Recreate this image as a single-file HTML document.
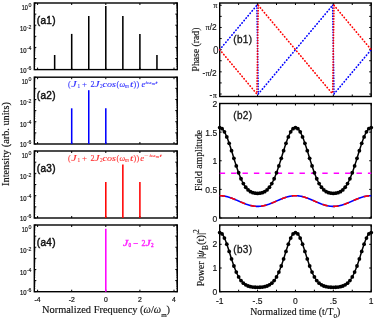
<!DOCTYPE html>
<html><head><meta charset="utf-8"><style>
html,body{margin:0;padding:0;background:#fff;}
svg{display:block;will-change:transform;}
text{font-family:"Liberation Sans",sans-serif;fill:#000;}
.tl{font-size:6.7px;fill:#111;stroke:#111;stroke-width:0.2px;}
.ts{font-size:5.3px;fill:#111;stroke:#111;stroke-width:0.15px;}
.tx{font-size:6.8px;fill:#111;stroke:#111;stroke-width:0.2px;}
.tr{font-size:8.5px;fill:#111;stroke:#111;stroke-width:0.15px;}
.t10{font-size:10px;fill:#111;}
.tpi{font-size:8.3px;fill:#111;stroke:#111;stroke-width:0.15px;}
.tpis{font-family:"Liberation Serif",serif;font-size:7.6px;fill:#222;stroke:#222;stroke-width:0.2px;}
.pl{font-size:10px;fill:#111;stroke:#111;stroke-width:0.45px;letter-spacing:0.3px;}
.pl2{font-size:10px;fill:#151515;stroke:#151515;stroke-width:0.3px;letter-spacing:0.3px;}
.eq text{font-family:"Liberation Serif",serif;font-weight:normal;fill:inherit;}
.xl{font-family:"Liberation Serif",serif;font-size:10.4px;fill:#111;stroke:#111;stroke-width:0.15px;}
.xl2{font-family:"Liberation Serif",serif;font-size:9.8px;fill:#111;stroke:#111;stroke-width:0.15px;}
.yl{font-family:"Liberation Serif",serif;font-size:10.3px;fill:#111;stroke:#111;stroke-width:0.15px;}
.yl2{font-family:"Liberation Serif",serif;font-size:9.7px;fill:#111;stroke:#111;stroke-width:0.15px;}
</style></head><body>
<svg width="375" height="321" viewBox="0 0 375 321">
<rect width="375" height="321" fill="#fff"/>
<g stroke="#000" stroke-width="1"><line x1="37.60" y1="69.60" x2="37.60" y2="67.60"/><line x1="37.60" y1="3.00" x2="37.60" y2="5.00"/><line x1="71.70" y1="69.60" x2="71.70" y2="67.60"/><line x1="71.70" y1="3.00" x2="71.70" y2="5.00"/><line x1="105.80" y1="69.60" x2="105.80" y2="67.60"/><line x1="105.80" y1="3.00" x2="105.80" y2="5.00"/><line x1="139.90" y1="69.60" x2="139.90" y2="67.60"/><line x1="139.90" y1="3.00" x2="139.90" y2="5.00"/><line x1="174.00" y1="69.60" x2="174.00" y2="67.60"/><line x1="174.00" y1="3.00" x2="174.00" y2="5.00"/><line x1="34.30" y1="3.00" x2="36.30" y2="3.00"/><line x1="177.30" y1="3.00" x2="175.30" y2="3.00"/><line x1="34.30" y1="10.76" x2="35.40" y2="10.76" stroke-width="0.6"/><line x1="177.30" y1="10.76" x2="176.20" y2="10.76" stroke-width="0.6"/><line x1="34.30" y1="8.80" x2="35.40" y2="8.80" stroke-width="0.6"/><line x1="177.30" y1="8.80" x2="176.20" y2="8.80" stroke-width="0.6"/><line x1="34.30" y1="7.42" x2="35.40" y2="7.42" stroke-width="0.6"/><line x1="177.30" y1="7.42" x2="176.20" y2="7.42" stroke-width="0.6"/><line x1="34.30" y1="6.34" x2="35.40" y2="6.34" stroke-width="0.6"/><line x1="177.30" y1="6.34" x2="176.20" y2="6.34" stroke-width="0.6"/><line x1="34.30" y1="5.46" x2="35.40" y2="5.46" stroke-width="0.6"/><line x1="177.30" y1="5.46" x2="176.20" y2="5.46" stroke-width="0.6"/><line x1="34.30" y1="4.72" x2="35.40" y2="4.72" stroke-width="0.6"/><line x1="177.30" y1="4.72" x2="176.20" y2="4.72" stroke-width="0.6"/><line x1="34.30" y1="4.08" x2="35.40" y2="4.08" stroke-width="0.6"/><line x1="177.30" y1="4.08" x2="176.20" y2="4.08" stroke-width="0.6"/><line x1="34.30" y1="3.51" x2="35.40" y2="3.51" stroke-width="0.6"/><line x1="177.30" y1="3.51" x2="176.20" y2="3.51" stroke-width="0.6"/><line x1="34.30" y1="14.10" x2="36.30" y2="14.10"/><line x1="177.30" y1="14.10" x2="175.30" y2="14.10"/><line x1="34.30" y1="21.86" x2="35.40" y2="21.86" stroke-width="0.6"/><line x1="177.30" y1="21.86" x2="176.20" y2="21.86" stroke-width="0.6"/><line x1="34.30" y1="19.90" x2="35.40" y2="19.90" stroke-width="0.6"/><line x1="177.30" y1="19.90" x2="176.20" y2="19.90" stroke-width="0.6"/><line x1="34.30" y1="18.52" x2="35.40" y2="18.52" stroke-width="0.6"/><line x1="177.30" y1="18.52" x2="176.20" y2="18.52" stroke-width="0.6"/><line x1="34.30" y1="17.44" x2="35.40" y2="17.44" stroke-width="0.6"/><line x1="177.30" y1="17.44" x2="176.20" y2="17.44" stroke-width="0.6"/><line x1="34.30" y1="16.56" x2="35.40" y2="16.56" stroke-width="0.6"/><line x1="177.30" y1="16.56" x2="176.20" y2="16.56" stroke-width="0.6"/><line x1="34.30" y1="15.82" x2="35.40" y2="15.82" stroke-width="0.6"/><line x1="177.30" y1="15.82" x2="176.20" y2="15.82" stroke-width="0.6"/><line x1="34.30" y1="15.18" x2="35.40" y2="15.18" stroke-width="0.6"/><line x1="177.30" y1="15.18" x2="176.20" y2="15.18" stroke-width="0.6"/><line x1="34.30" y1="14.61" x2="35.40" y2="14.61" stroke-width="0.6"/><line x1="177.30" y1="14.61" x2="176.20" y2="14.61" stroke-width="0.6"/><line x1="34.30" y1="25.20" x2="36.30" y2="25.20"/><line x1="177.30" y1="25.20" x2="175.30" y2="25.20"/><line x1="34.30" y1="32.96" x2="35.40" y2="32.96" stroke-width="0.6"/><line x1="177.30" y1="32.96" x2="176.20" y2="32.96" stroke-width="0.6"/><line x1="34.30" y1="31.00" x2="35.40" y2="31.00" stroke-width="0.6"/><line x1="177.30" y1="31.00" x2="176.20" y2="31.00" stroke-width="0.6"/><line x1="34.30" y1="29.62" x2="35.40" y2="29.62" stroke-width="0.6"/><line x1="177.30" y1="29.62" x2="176.20" y2="29.62" stroke-width="0.6"/><line x1="34.30" y1="28.54" x2="35.40" y2="28.54" stroke-width="0.6"/><line x1="177.30" y1="28.54" x2="176.20" y2="28.54" stroke-width="0.6"/><line x1="34.30" y1="27.66" x2="35.40" y2="27.66" stroke-width="0.6"/><line x1="177.30" y1="27.66" x2="176.20" y2="27.66" stroke-width="0.6"/><line x1="34.30" y1="26.92" x2="35.40" y2="26.92" stroke-width="0.6"/><line x1="177.30" y1="26.92" x2="176.20" y2="26.92" stroke-width="0.6"/><line x1="34.30" y1="26.28" x2="35.40" y2="26.28" stroke-width="0.6"/><line x1="177.30" y1="26.28" x2="176.20" y2="26.28" stroke-width="0.6"/><line x1="34.30" y1="25.71" x2="35.40" y2="25.71" stroke-width="0.6"/><line x1="177.30" y1="25.71" x2="176.20" y2="25.71" stroke-width="0.6"/><line x1="34.30" y1="36.30" x2="36.30" y2="36.30"/><line x1="177.30" y1="36.30" x2="175.30" y2="36.30"/><line x1="34.30" y1="44.06" x2="35.40" y2="44.06" stroke-width="0.6"/><line x1="177.30" y1="44.06" x2="176.20" y2="44.06" stroke-width="0.6"/><line x1="34.30" y1="42.10" x2="35.40" y2="42.10" stroke-width="0.6"/><line x1="177.30" y1="42.10" x2="176.20" y2="42.10" stroke-width="0.6"/><line x1="34.30" y1="40.72" x2="35.40" y2="40.72" stroke-width="0.6"/><line x1="177.30" y1="40.72" x2="176.20" y2="40.72" stroke-width="0.6"/><line x1="34.30" y1="39.64" x2="35.40" y2="39.64" stroke-width="0.6"/><line x1="177.30" y1="39.64" x2="176.20" y2="39.64" stroke-width="0.6"/><line x1="34.30" y1="38.76" x2="35.40" y2="38.76" stroke-width="0.6"/><line x1="177.30" y1="38.76" x2="176.20" y2="38.76" stroke-width="0.6"/><line x1="34.30" y1="38.02" x2="35.40" y2="38.02" stroke-width="0.6"/><line x1="177.30" y1="38.02" x2="176.20" y2="38.02" stroke-width="0.6"/><line x1="34.30" y1="37.38" x2="35.40" y2="37.38" stroke-width="0.6"/><line x1="177.30" y1="37.38" x2="176.20" y2="37.38" stroke-width="0.6"/><line x1="34.30" y1="36.81" x2="35.40" y2="36.81" stroke-width="0.6"/><line x1="177.30" y1="36.81" x2="176.20" y2="36.81" stroke-width="0.6"/><line x1="34.30" y1="47.40" x2="36.30" y2="47.40"/><line x1="177.30" y1="47.40" x2="175.30" y2="47.40"/><line x1="34.30" y1="55.16" x2="35.40" y2="55.16" stroke-width="0.6"/><line x1="177.30" y1="55.16" x2="176.20" y2="55.16" stroke-width="0.6"/><line x1="34.30" y1="53.20" x2="35.40" y2="53.20" stroke-width="0.6"/><line x1="177.30" y1="53.20" x2="176.20" y2="53.20" stroke-width="0.6"/><line x1="34.30" y1="51.82" x2="35.40" y2="51.82" stroke-width="0.6"/><line x1="177.30" y1="51.82" x2="176.20" y2="51.82" stroke-width="0.6"/><line x1="34.30" y1="50.74" x2="35.40" y2="50.74" stroke-width="0.6"/><line x1="177.30" y1="50.74" x2="176.20" y2="50.74" stroke-width="0.6"/><line x1="34.30" y1="49.86" x2="35.40" y2="49.86" stroke-width="0.6"/><line x1="177.30" y1="49.86" x2="176.20" y2="49.86" stroke-width="0.6"/><line x1="34.30" y1="49.12" x2="35.40" y2="49.12" stroke-width="0.6"/><line x1="177.30" y1="49.12" x2="176.20" y2="49.12" stroke-width="0.6"/><line x1="34.30" y1="48.48" x2="35.40" y2="48.48" stroke-width="0.6"/><line x1="177.30" y1="48.48" x2="176.20" y2="48.48" stroke-width="0.6"/><line x1="34.30" y1="47.91" x2="35.40" y2="47.91" stroke-width="0.6"/><line x1="177.30" y1="47.91" x2="176.20" y2="47.91" stroke-width="0.6"/><line x1="34.30" y1="58.50" x2="36.30" y2="58.50"/><line x1="177.30" y1="58.50" x2="175.30" y2="58.50"/><line x1="34.30" y1="66.26" x2="35.40" y2="66.26" stroke-width="0.6"/><line x1="177.30" y1="66.26" x2="176.20" y2="66.26" stroke-width="0.6"/><line x1="34.30" y1="64.30" x2="35.40" y2="64.30" stroke-width="0.6"/><line x1="177.30" y1="64.30" x2="176.20" y2="64.30" stroke-width="0.6"/><line x1="34.30" y1="62.92" x2="35.40" y2="62.92" stroke-width="0.6"/><line x1="177.30" y1="62.92" x2="176.20" y2="62.92" stroke-width="0.6"/><line x1="34.30" y1="61.84" x2="35.40" y2="61.84" stroke-width="0.6"/><line x1="177.30" y1="61.84" x2="176.20" y2="61.84" stroke-width="0.6"/><line x1="34.30" y1="60.96" x2="35.40" y2="60.96" stroke-width="0.6"/><line x1="177.30" y1="60.96" x2="176.20" y2="60.96" stroke-width="0.6"/><line x1="34.30" y1="60.22" x2="35.40" y2="60.22" stroke-width="0.6"/><line x1="177.30" y1="60.22" x2="176.20" y2="60.22" stroke-width="0.6"/><line x1="34.30" y1="59.58" x2="35.40" y2="59.58" stroke-width="0.6"/><line x1="177.30" y1="59.58" x2="176.20" y2="59.58" stroke-width="0.6"/><line x1="34.30" y1="59.01" x2="35.40" y2="59.01" stroke-width="0.6"/><line x1="177.30" y1="59.01" x2="176.20" y2="59.01" stroke-width="0.6"/><line x1="34.30" y1="69.60" x2="36.30" y2="69.60"/><line x1="177.30" y1="69.60" x2="175.30" y2="69.60"/></g>
<rect x="34.3" y="3.0" width="143.00" height="66.60" fill="none" stroke="#000" stroke-width="1.4"/>
<text x="27.9" y="9.60" class="tl" text-anchor="end" textLength="6.1" lengthAdjust="spacingAndGlyphs">10</text>
<text x="28.5" y="6.80" class="ts">0</text>
<text x="26.6" y="31.10" class="tl" text-anchor="end" textLength="6.6" lengthAdjust="spacingAndGlyphs">10</text>
<text x="26.7" y="28.50" class="ts" textLength="4.6" lengthAdjust="spacingAndGlyphs">-2</text>
<text x="26.6" y="52.60" class="tl" text-anchor="end" textLength="6.6" lengthAdjust="spacingAndGlyphs">10</text>
<text x="26.7" y="50.00" class="ts" textLength="4.6" lengthAdjust="spacingAndGlyphs">-4</text>
<text x="26.6" y="72.80" class="tl" text-anchor="end" textLength="6.6" lengthAdjust="spacingAndGlyphs">10</text>
<text x="26.7" y="70.20" class="ts" textLength="4.6" lengthAdjust="spacingAndGlyphs">-6</text>
<g stroke="#000" stroke-width="1"><line x1="37.60" y1="144.00" x2="37.60" y2="142.00"/><line x1="37.60" y1="77.20" x2="37.60" y2="79.20"/><line x1="71.70" y1="144.00" x2="71.70" y2="142.00"/><line x1="71.70" y1="77.20" x2="71.70" y2="79.20"/><line x1="105.80" y1="144.00" x2="105.80" y2="142.00"/><line x1="105.80" y1="77.20" x2="105.80" y2="79.20"/><line x1="139.90" y1="144.00" x2="139.90" y2="142.00"/><line x1="139.90" y1="77.20" x2="139.90" y2="79.20"/><line x1="174.00" y1="144.00" x2="174.00" y2="142.00"/><line x1="174.00" y1="77.20" x2="174.00" y2="79.20"/><line x1="34.30" y1="77.20" x2="36.30" y2="77.20"/><line x1="177.30" y1="77.20" x2="175.30" y2="77.20"/><line x1="34.30" y1="84.98" x2="35.40" y2="84.98" stroke-width="0.6"/><line x1="177.30" y1="84.98" x2="176.20" y2="84.98" stroke-width="0.6"/><line x1="34.30" y1="83.02" x2="35.40" y2="83.02" stroke-width="0.6"/><line x1="177.30" y1="83.02" x2="176.20" y2="83.02" stroke-width="0.6"/><line x1="34.30" y1="81.63" x2="35.40" y2="81.63" stroke-width="0.6"/><line x1="177.30" y1="81.63" x2="176.20" y2="81.63" stroke-width="0.6"/><line x1="34.30" y1="80.55" x2="35.40" y2="80.55" stroke-width="0.6"/><line x1="177.30" y1="80.55" x2="176.20" y2="80.55" stroke-width="0.6"/><line x1="34.30" y1="79.67" x2="35.40" y2="79.67" stroke-width="0.6"/><line x1="177.30" y1="79.67" x2="176.20" y2="79.67" stroke-width="0.6"/><line x1="34.30" y1="78.92" x2="35.40" y2="78.92" stroke-width="0.6"/><line x1="177.30" y1="78.92" x2="176.20" y2="78.92" stroke-width="0.6"/><line x1="34.30" y1="78.28" x2="35.40" y2="78.28" stroke-width="0.6"/><line x1="177.30" y1="78.28" x2="176.20" y2="78.28" stroke-width="0.6"/><line x1="34.30" y1="77.71" x2="35.40" y2="77.71" stroke-width="0.6"/><line x1="177.30" y1="77.71" x2="176.20" y2="77.71" stroke-width="0.6"/><line x1="34.30" y1="88.33" x2="36.30" y2="88.33"/><line x1="177.30" y1="88.33" x2="175.30" y2="88.33"/><line x1="34.30" y1="96.12" x2="35.40" y2="96.12" stroke-width="0.6"/><line x1="177.30" y1="96.12" x2="176.20" y2="96.12" stroke-width="0.6"/><line x1="34.30" y1="94.15" x2="35.40" y2="94.15" stroke-width="0.6"/><line x1="177.30" y1="94.15" x2="176.20" y2="94.15" stroke-width="0.6"/><line x1="34.30" y1="92.76" x2="35.40" y2="92.76" stroke-width="0.6"/><line x1="177.30" y1="92.76" x2="176.20" y2="92.76" stroke-width="0.6"/><line x1="34.30" y1="91.68" x2="35.40" y2="91.68" stroke-width="0.6"/><line x1="177.30" y1="91.68" x2="176.20" y2="91.68" stroke-width="0.6"/><line x1="34.30" y1="90.80" x2="35.40" y2="90.80" stroke-width="0.6"/><line x1="177.30" y1="90.80" x2="176.20" y2="90.80" stroke-width="0.6"/><line x1="34.30" y1="90.06" x2="35.40" y2="90.06" stroke-width="0.6"/><line x1="177.30" y1="90.06" x2="176.20" y2="90.06" stroke-width="0.6"/><line x1="34.30" y1="89.41" x2="35.40" y2="89.41" stroke-width="0.6"/><line x1="177.30" y1="89.41" x2="176.20" y2="89.41" stroke-width="0.6"/><line x1="34.30" y1="88.84" x2="35.40" y2="88.84" stroke-width="0.6"/><line x1="177.30" y1="88.84" x2="176.20" y2="88.84" stroke-width="0.6"/><line x1="34.30" y1="99.47" x2="36.30" y2="99.47"/><line x1="177.30" y1="99.47" x2="175.30" y2="99.47"/><line x1="34.30" y1="107.25" x2="35.40" y2="107.25" stroke-width="0.6"/><line x1="177.30" y1="107.25" x2="176.20" y2="107.25" stroke-width="0.6"/><line x1="34.30" y1="105.29" x2="35.40" y2="105.29" stroke-width="0.6"/><line x1="177.30" y1="105.29" x2="176.20" y2="105.29" stroke-width="0.6"/><line x1="34.30" y1="103.90" x2="35.40" y2="103.90" stroke-width="0.6"/><line x1="177.30" y1="103.90" x2="176.20" y2="103.90" stroke-width="0.6"/><line x1="34.30" y1="102.82" x2="35.40" y2="102.82" stroke-width="0.6"/><line x1="177.30" y1="102.82" x2="176.20" y2="102.82" stroke-width="0.6"/><line x1="34.30" y1="101.94" x2="35.40" y2="101.94" stroke-width="0.6"/><line x1="177.30" y1="101.94" x2="176.20" y2="101.94" stroke-width="0.6"/><line x1="34.30" y1="101.19" x2="35.40" y2="101.19" stroke-width="0.6"/><line x1="177.30" y1="101.19" x2="176.20" y2="101.19" stroke-width="0.6"/><line x1="34.30" y1="100.55" x2="35.40" y2="100.55" stroke-width="0.6"/><line x1="177.30" y1="100.55" x2="176.20" y2="100.55" stroke-width="0.6"/><line x1="34.30" y1="99.98" x2="35.40" y2="99.98" stroke-width="0.6"/><line x1="177.30" y1="99.98" x2="176.20" y2="99.98" stroke-width="0.6"/><line x1="34.30" y1="110.60" x2="36.30" y2="110.60"/><line x1="177.30" y1="110.60" x2="175.30" y2="110.60"/><line x1="34.30" y1="118.38" x2="35.40" y2="118.38" stroke-width="0.6"/><line x1="177.30" y1="118.38" x2="176.20" y2="118.38" stroke-width="0.6"/><line x1="34.30" y1="116.42" x2="35.40" y2="116.42" stroke-width="0.6"/><line x1="177.30" y1="116.42" x2="176.20" y2="116.42" stroke-width="0.6"/><line x1="34.30" y1="115.03" x2="35.40" y2="115.03" stroke-width="0.6"/><line x1="177.30" y1="115.03" x2="176.20" y2="115.03" stroke-width="0.6"/><line x1="34.30" y1="113.95" x2="35.40" y2="113.95" stroke-width="0.6"/><line x1="177.30" y1="113.95" x2="176.20" y2="113.95" stroke-width="0.6"/><line x1="34.30" y1="113.07" x2="35.40" y2="113.07" stroke-width="0.6"/><line x1="177.30" y1="113.07" x2="176.20" y2="113.07" stroke-width="0.6"/><line x1="34.30" y1="112.32" x2="35.40" y2="112.32" stroke-width="0.6"/><line x1="177.30" y1="112.32" x2="176.20" y2="112.32" stroke-width="0.6"/><line x1="34.30" y1="111.68" x2="35.40" y2="111.68" stroke-width="0.6"/><line x1="177.30" y1="111.68" x2="176.20" y2="111.68" stroke-width="0.6"/><line x1="34.30" y1="111.11" x2="35.40" y2="111.11" stroke-width="0.6"/><line x1="177.30" y1="111.11" x2="176.20" y2="111.11" stroke-width="0.6"/><line x1="34.30" y1="121.73" x2="36.30" y2="121.73"/><line x1="177.30" y1="121.73" x2="175.30" y2="121.73"/><line x1="34.30" y1="129.52" x2="35.40" y2="129.52" stroke-width="0.6"/><line x1="177.30" y1="129.52" x2="176.20" y2="129.52" stroke-width="0.6"/><line x1="34.30" y1="127.55" x2="35.40" y2="127.55" stroke-width="0.6"/><line x1="177.30" y1="127.55" x2="176.20" y2="127.55" stroke-width="0.6"/><line x1="34.30" y1="126.16" x2="35.40" y2="126.16" stroke-width="0.6"/><line x1="177.30" y1="126.16" x2="176.20" y2="126.16" stroke-width="0.6"/><line x1="34.30" y1="125.08" x2="35.40" y2="125.08" stroke-width="0.6"/><line x1="177.30" y1="125.08" x2="176.20" y2="125.08" stroke-width="0.6"/><line x1="34.30" y1="124.20" x2="35.40" y2="124.20" stroke-width="0.6"/><line x1="177.30" y1="124.20" x2="176.20" y2="124.20" stroke-width="0.6"/><line x1="34.30" y1="123.46" x2="35.40" y2="123.46" stroke-width="0.6"/><line x1="177.30" y1="123.46" x2="176.20" y2="123.46" stroke-width="0.6"/><line x1="34.30" y1="122.81" x2="35.40" y2="122.81" stroke-width="0.6"/><line x1="177.30" y1="122.81" x2="176.20" y2="122.81" stroke-width="0.6"/><line x1="34.30" y1="122.24" x2="35.40" y2="122.24" stroke-width="0.6"/><line x1="177.30" y1="122.24" x2="176.20" y2="122.24" stroke-width="0.6"/><line x1="34.30" y1="132.87" x2="36.30" y2="132.87"/><line x1="177.30" y1="132.87" x2="175.30" y2="132.87"/><line x1="34.30" y1="140.65" x2="35.40" y2="140.65" stroke-width="0.6"/><line x1="177.30" y1="140.65" x2="176.20" y2="140.65" stroke-width="0.6"/><line x1="34.30" y1="138.69" x2="35.40" y2="138.69" stroke-width="0.6"/><line x1="177.30" y1="138.69" x2="176.20" y2="138.69" stroke-width="0.6"/><line x1="34.30" y1="137.30" x2="35.40" y2="137.30" stroke-width="0.6"/><line x1="177.30" y1="137.30" x2="176.20" y2="137.30" stroke-width="0.6"/><line x1="34.30" y1="136.22" x2="35.40" y2="136.22" stroke-width="0.6"/><line x1="177.30" y1="136.22" x2="176.20" y2="136.22" stroke-width="0.6"/><line x1="34.30" y1="135.34" x2="35.40" y2="135.34" stroke-width="0.6"/><line x1="177.30" y1="135.34" x2="176.20" y2="135.34" stroke-width="0.6"/><line x1="34.30" y1="134.59" x2="35.40" y2="134.59" stroke-width="0.6"/><line x1="177.30" y1="134.59" x2="176.20" y2="134.59" stroke-width="0.6"/><line x1="34.30" y1="133.95" x2="35.40" y2="133.95" stroke-width="0.6"/><line x1="177.30" y1="133.95" x2="176.20" y2="133.95" stroke-width="0.6"/><line x1="34.30" y1="133.38" x2="35.40" y2="133.38" stroke-width="0.6"/><line x1="177.30" y1="133.38" x2="176.20" y2="133.38" stroke-width="0.6"/><line x1="34.30" y1="144.00" x2="36.30" y2="144.00"/><line x1="177.30" y1="144.00" x2="175.30" y2="144.00"/></g>
<rect x="34.3" y="77.2" width="143.00" height="66.80" fill="none" stroke="#000" stroke-width="1.4"/>
<text x="27.9" y="83.80" class="tl" text-anchor="end" textLength="6.1" lengthAdjust="spacingAndGlyphs">10</text>
<text x="28.5" y="81.00" class="ts">0</text>
<text x="26.6" y="105.30" class="tl" text-anchor="end" textLength="6.6" lengthAdjust="spacingAndGlyphs">10</text>
<text x="26.7" y="102.70" class="ts" textLength="4.6" lengthAdjust="spacingAndGlyphs">-2</text>
<text x="26.6" y="126.80" class="tl" text-anchor="end" textLength="6.6" lengthAdjust="spacingAndGlyphs">10</text>
<text x="26.7" y="124.20" class="ts" textLength="4.6" lengthAdjust="spacingAndGlyphs">-4</text>
<text x="26.6" y="147.00" class="tl" text-anchor="end" textLength="6.6" lengthAdjust="spacingAndGlyphs">10</text>
<text x="26.7" y="144.40" class="ts" textLength="4.6" lengthAdjust="spacingAndGlyphs">-6</text>
<g stroke="#000" stroke-width="1"><line x1="37.60" y1="218.00" x2="37.60" y2="216.00"/><line x1="37.60" y1="151.00" x2="37.60" y2="153.00"/><line x1="71.70" y1="218.00" x2="71.70" y2="216.00"/><line x1="71.70" y1="151.00" x2="71.70" y2="153.00"/><line x1="105.80" y1="218.00" x2="105.80" y2="216.00"/><line x1="105.80" y1="151.00" x2="105.80" y2="153.00"/><line x1="139.90" y1="218.00" x2="139.90" y2="216.00"/><line x1="139.90" y1="151.00" x2="139.90" y2="153.00"/><line x1="174.00" y1="218.00" x2="174.00" y2="216.00"/><line x1="174.00" y1="151.00" x2="174.00" y2="153.00"/><line x1="34.30" y1="151.00" x2="36.30" y2="151.00"/><line x1="177.30" y1="151.00" x2="175.30" y2="151.00"/><line x1="34.30" y1="158.81" x2="35.40" y2="158.81" stroke-width="0.6"/><line x1="177.30" y1="158.81" x2="176.20" y2="158.81" stroke-width="0.6"/><line x1="34.30" y1="156.84" x2="35.40" y2="156.84" stroke-width="0.6"/><line x1="177.30" y1="156.84" x2="176.20" y2="156.84" stroke-width="0.6"/><line x1="34.30" y1="155.44" x2="35.40" y2="155.44" stroke-width="0.6"/><line x1="177.30" y1="155.44" x2="176.20" y2="155.44" stroke-width="0.6"/><line x1="34.30" y1="154.36" x2="35.40" y2="154.36" stroke-width="0.6"/><line x1="177.30" y1="154.36" x2="176.20" y2="154.36" stroke-width="0.6"/><line x1="34.30" y1="153.48" x2="35.40" y2="153.48" stroke-width="0.6"/><line x1="177.30" y1="153.48" x2="176.20" y2="153.48" stroke-width="0.6"/><line x1="34.30" y1="152.73" x2="35.40" y2="152.73" stroke-width="0.6"/><line x1="177.30" y1="152.73" x2="176.20" y2="152.73" stroke-width="0.6"/><line x1="34.30" y1="152.08" x2="35.40" y2="152.08" stroke-width="0.6"/><line x1="177.30" y1="152.08" x2="176.20" y2="152.08" stroke-width="0.6"/><line x1="34.30" y1="151.51" x2="35.40" y2="151.51" stroke-width="0.6"/><line x1="177.30" y1="151.51" x2="176.20" y2="151.51" stroke-width="0.6"/><line x1="34.30" y1="162.17" x2="36.30" y2="162.17"/><line x1="177.30" y1="162.17" x2="175.30" y2="162.17"/><line x1="34.30" y1="169.97" x2="35.40" y2="169.97" stroke-width="0.6"/><line x1="177.30" y1="169.97" x2="176.20" y2="169.97" stroke-width="0.6"/><line x1="34.30" y1="168.01" x2="35.40" y2="168.01" stroke-width="0.6"/><line x1="177.30" y1="168.01" x2="176.20" y2="168.01" stroke-width="0.6"/><line x1="34.30" y1="166.61" x2="35.40" y2="166.61" stroke-width="0.6"/><line x1="177.30" y1="166.61" x2="176.20" y2="166.61" stroke-width="0.6"/><line x1="34.30" y1="165.53" x2="35.40" y2="165.53" stroke-width="0.6"/><line x1="177.30" y1="165.53" x2="176.20" y2="165.53" stroke-width="0.6"/><line x1="34.30" y1="164.64" x2="35.40" y2="164.64" stroke-width="0.6"/><line x1="177.30" y1="164.64" x2="176.20" y2="164.64" stroke-width="0.6"/><line x1="34.30" y1="163.90" x2="35.40" y2="163.90" stroke-width="0.6"/><line x1="177.30" y1="163.90" x2="176.20" y2="163.90" stroke-width="0.6"/><line x1="34.30" y1="163.25" x2="35.40" y2="163.25" stroke-width="0.6"/><line x1="177.30" y1="163.25" x2="176.20" y2="163.25" stroke-width="0.6"/><line x1="34.30" y1="162.68" x2="35.40" y2="162.68" stroke-width="0.6"/><line x1="177.30" y1="162.68" x2="176.20" y2="162.68" stroke-width="0.6"/><line x1="34.30" y1="173.33" x2="36.30" y2="173.33"/><line x1="177.30" y1="173.33" x2="175.30" y2="173.33"/><line x1="34.30" y1="181.14" x2="35.40" y2="181.14" stroke-width="0.6"/><line x1="177.30" y1="181.14" x2="176.20" y2="181.14" stroke-width="0.6"/><line x1="34.30" y1="179.17" x2="35.40" y2="179.17" stroke-width="0.6"/><line x1="177.30" y1="179.17" x2="176.20" y2="179.17" stroke-width="0.6"/><line x1="34.30" y1="177.78" x2="35.40" y2="177.78" stroke-width="0.6"/><line x1="177.30" y1="177.78" x2="176.20" y2="177.78" stroke-width="0.6"/><line x1="34.30" y1="176.69" x2="35.40" y2="176.69" stroke-width="0.6"/><line x1="177.30" y1="176.69" x2="176.20" y2="176.69" stroke-width="0.6"/><line x1="34.30" y1="175.81" x2="35.40" y2="175.81" stroke-width="0.6"/><line x1="177.30" y1="175.81" x2="176.20" y2="175.81" stroke-width="0.6"/><line x1="34.30" y1="175.06" x2="35.40" y2="175.06" stroke-width="0.6"/><line x1="177.30" y1="175.06" x2="176.20" y2="175.06" stroke-width="0.6"/><line x1="34.30" y1="174.42" x2="35.40" y2="174.42" stroke-width="0.6"/><line x1="177.30" y1="174.42" x2="176.20" y2="174.42" stroke-width="0.6"/><line x1="34.30" y1="173.84" x2="35.40" y2="173.84" stroke-width="0.6"/><line x1="177.30" y1="173.84" x2="176.20" y2="173.84" stroke-width="0.6"/><line x1="34.30" y1="184.50" x2="36.30" y2="184.50"/><line x1="177.30" y1="184.50" x2="175.30" y2="184.50"/><line x1="34.30" y1="192.31" x2="35.40" y2="192.31" stroke-width="0.6"/><line x1="177.30" y1="192.31" x2="176.20" y2="192.31" stroke-width="0.6"/><line x1="34.30" y1="190.34" x2="35.40" y2="190.34" stroke-width="0.6"/><line x1="177.30" y1="190.34" x2="176.20" y2="190.34" stroke-width="0.6"/><line x1="34.30" y1="188.94" x2="35.40" y2="188.94" stroke-width="0.6"/><line x1="177.30" y1="188.94" x2="176.20" y2="188.94" stroke-width="0.6"/><line x1="34.30" y1="187.86" x2="35.40" y2="187.86" stroke-width="0.6"/><line x1="177.30" y1="187.86" x2="176.20" y2="187.86" stroke-width="0.6"/><line x1="34.30" y1="186.98" x2="35.40" y2="186.98" stroke-width="0.6"/><line x1="177.30" y1="186.98" x2="176.20" y2="186.98" stroke-width="0.6"/><line x1="34.30" y1="186.23" x2="35.40" y2="186.23" stroke-width="0.6"/><line x1="177.30" y1="186.23" x2="176.20" y2="186.23" stroke-width="0.6"/><line x1="34.30" y1="185.58" x2="35.40" y2="185.58" stroke-width="0.6"/><line x1="177.30" y1="185.58" x2="176.20" y2="185.58" stroke-width="0.6"/><line x1="34.30" y1="185.01" x2="35.40" y2="185.01" stroke-width="0.6"/><line x1="177.30" y1="185.01" x2="176.20" y2="185.01" stroke-width="0.6"/><line x1="34.30" y1="195.67" x2="36.30" y2="195.67"/><line x1="177.30" y1="195.67" x2="175.30" y2="195.67"/><line x1="34.30" y1="203.47" x2="35.40" y2="203.47" stroke-width="0.6"/><line x1="177.30" y1="203.47" x2="176.20" y2="203.47" stroke-width="0.6"/><line x1="34.30" y1="201.51" x2="35.40" y2="201.51" stroke-width="0.6"/><line x1="177.30" y1="201.51" x2="176.20" y2="201.51" stroke-width="0.6"/><line x1="34.30" y1="200.11" x2="35.40" y2="200.11" stroke-width="0.6"/><line x1="177.30" y1="200.11" x2="176.20" y2="200.11" stroke-width="0.6"/><line x1="34.30" y1="199.03" x2="35.40" y2="199.03" stroke-width="0.6"/><line x1="177.30" y1="199.03" x2="176.20" y2="199.03" stroke-width="0.6"/><line x1="34.30" y1="198.14" x2="35.40" y2="198.14" stroke-width="0.6"/><line x1="177.30" y1="198.14" x2="176.20" y2="198.14" stroke-width="0.6"/><line x1="34.30" y1="197.40" x2="35.40" y2="197.40" stroke-width="0.6"/><line x1="177.30" y1="197.40" x2="176.20" y2="197.40" stroke-width="0.6"/><line x1="34.30" y1="196.75" x2="35.40" y2="196.75" stroke-width="0.6"/><line x1="177.30" y1="196.75" x2="176.20" y2="196.75" stroke-width="0.6"/><line x1="34.30" y1="196.18" x2="35.40" y2="196.18" stroke-width="0.6"/><line x1="177.30" y1="196.18" x2="176.20" y2="196.18" stroke-width="0.6"/><line x1="34.30" y1="206.83" x2="36.30" y2="206.83"/><line x1="177.30" y1="206.83" x2="175.30" y2="206.83"/><line x1="34.30" y1="214.64" x2="35.40" y2="214.64" stroke-width="0.6"/><line x1="177.30" y1="214.64" x2="176.20" y2="214.64" stroke-width="0.6"/><line x1="34.30" y1="212.67" x2="35.40" y2="212.67" stroke-width="0.6"/><line x1="177.30" y1="212.67" x2="176.20" y2="212.67" stroke-width="0.6"/><line x1="34.30" y1="211.28" x2="35.40" y2="211.28" stroke-width="0.6"/><line x1="177.30" y1="211.28" x2="176.20" y2="211.28" stroke-width="0.6"/><line x1="34.30" y1="210.19" x2="35.40" y2="210.19" stroke-width="0.6"/><line x1="177.30" y1="210.19" x2="176.20" y2="210.19" stroke-width="0.6"/><line x1="34.30" y1="209.31" x2="35.40" y2="209.31" stroke-width="0.6"/><line x1="177.30" y1="209.31" x2="176.20" y2="209.31" stroke-width="0.6"/><line x1="34.30" y1="208.56" x2="35.40" y2="208.56" stroke-width="0.6"/><line x1="177.30" y1="208.56" x2="176.20" y2="208.56" stroke-width="0.6"/><line x1="34.30" y1="207.92" x2="35.40" y2="207.92" stroke-width="0.6"/><line x1="177.30" y1="207.92" x2="176.20" y2="207.92" stroke-width="0.6"/><line x1="34.30" y1="207.34" x2="35.40" y2="207.34" stroke-width="0.6"/><line x1="177.30" y1="207.34" x2="176.20" y2="207.34" stroke-width="0.6"/><line x1="34.30" y1="218.00" x2="36.30" y2="218.00"/><line x1="177.30" y1="218.00" x2="175.30" y2="218.00"/></g>
<rect x="34.3" y="151.0" width="143.00" height="67.00" fill="none" stroke="#000" stroke-width="1.4"/>
<text x="27.9" y="157.60" class="tl" text-anchor="end" textLength="6.1" lengthAdjust="spacingAndGlyphs">10</text>
<text x="28.5" y="154.80" class="ts">0</text>
<text x="26.6" y="179.10" class="tl" text-anchor="end" textLength="6.6" lengthAdjust="spacingAndGlyphs">10</text>
<text x="26.7" y="176.50" class="ts" textLength="4.6" lengthAdjust="spacingAndGlyphs">-2</text>
<text x="26.6" y="200.60" class="tl" text-anchor="end" textLength="6.6" lengthAdjust="spacingAndGlyphs">10</text>
<text x="26.7" y="198.00" class="ts" textLength="4.6" lengthAdjust="spacingAndGlyphs">-4</text>
<text x="26.6" y="220.80" class="tl" text-anchor="end" textLength="6.6" lengthAdjust="spacingAndGlyphs">10</text>
<text x="26.7" y="218.20" class="ts" textLength="4.6" lengthAdjust="spacingAndGlyphs">-6</text>
<g stroke="#000" stroke-width="1"><line x1="37.60" y1="291.70" x2="37.60" y2="289.70"/><line x1="37.60" y1="225.00" x2="37.60" y2="227.00"/><line x1="71.70" y1="291.70" x2="71.70" y2="289.70"/><line x1="71.70" y1="225.00" x2="71.70" y2="227.00"/><line x1="105.80" y1="291.70" x2="105.80" y2="289.70"/><line x1="105.80" y1="225.00" x2="105.80" y2="227.00"/><line x1="139.90" y1="291.70" x2="139.90" y2="289.70"/><line x1="139.90" y1="225.00" x2="139.90" y2="227.00"/><line x1="174.00" y1="291.70" x2="174.00" y2="289.70"/><line x1="174.00" y1="225.00" x2="174.00" y2="227.00"/><line x1="34.30" y1="225.00" x2="36.30" y2="225.00"/><line x1="177.30" y1="225.00" x2="175.30" y2="225.00"/><line x1="34.30" y1="232.77" x2="35.40" y2="232.77" stroke-width="0.6"/><line x1="177.30" y1="232.77" x2="176.20" y2="232.77" stroke-width="0.6"/><line x1="34.30" y1="230.81" x2="35.40" y2="230.81" stroke-width="0.6"/><line x1="177.30" y1="230.81" x2="176.20" y2="230.81" stroke-width="0.6"/><line x1="34.30" y1="229.42" x2="35.40" y2="229.42" stroke-width="0.6"/><line x1="177.30" y1="229.42" x2="176.20" y2="229.42" stroke-width="0.6"/><line x1="34.30" y1="228.35" x2="35.40" y2="228.35" stroke-width="0.6"/><line x1="177.30" y1="228.35" x2="176.20" y2="228.35" stroke-width="0.6"/><line x1="34.30" y1="227.47" x2="35.40" y2="227.47" stroke-width="0.6"/><line x1="177.30" y1="227.47" x2="176.20" y2="227.47" stroke-width="0.6"/><line x1="34.30" y1="226.72" x2="35.40" y2="226.72" stroke-width="0.6"/><line x1="177.30" y1="226.72" x2="176.20" y2="226.72" stroke-width="0.6"/><line x1="34.30" y1="226.08" x2="35.40" y2="226.08" stroke-width="0.6"/><line x1="177.30" y1="226.08" x2="176.20" y2="226.08" stroke-width="0.6"/><line x1="34.30" y1="225.51" x2="35.40" y2="225.51" stroke-width="0.6"/><line x1="177.30" y1="225.51" x2="176.20" y2="225.51" stroke-width="0.6"/><line x1="34.30" y1="236.12" x2="36.30" y2="236.12"/><line x1="177.30" y1="236.12" x2="175.30" y2="236.12"/><line x1="34.30" y1="243.89" x2="35.40" y2="243.89" stroke-width="0.6"/><line x1="177.30" y1="243.89" x2="176.20" y2="243.89" stroke-width="0.6"/><line x1="34.30" y1="241.93" x2="35.40" y2="241.93" stroke-width="0.6"/><line x1="177.30" y1="241.93" x2="176.20" y2="241.93" stroke-width="0.6"/><line x1="34.30" y1="240.54" x2="35.40" y2="240.54" stroke-width="0.6"/><line x1="177.30" y1="240.54" x2="176.20" y2="240.54" stroke-width="0.6"/><line x1="34.30" y1="239.46" x2="35.40" y2="239.46" stroke-width="0.6"/><line x1="177.30" y1="239.46" x2="176.20" y2="239.46" stroke-width="0.6"/><line x1="34.30" y1="238.58" x2="35.40" y2="238.58" stroke-width="0.6"/><line x1="177.30" y1="238.58" x2="176.20" y2="238.58" stroke-width="0.6"/><line x1="34.30" y1="237.84" x2="35.40" y2="237.84" stroke-width="0.6"/><line x1="177.30" y1="237.84" x2="176.20" y2="237.84" stroke-width="0.6"/><line x1="34.30" y1="237.19" x2="35.40" y2="237.19" stroke-width="0.6"/><line x1="177.30" y1="237.19" x2="176.20" y2="237.19" stroke-width="0.6"/><line x1="34.30" y1="236.63" x2="35.40" y2="236.63" stroke-width="0.6"/><line x1="177.30" y1="236.63" x2="176.20" y2="236.63" stroke-width="0.6"/><line x1="34.30" y1="247.23" x2="36.30" y2="247.23"/><line x1="177.30" y1="247.23" x2="175.30" y2="247.23"/><line x1="34.30" y1="255.00" x2="35.40" y2="255.00" stroke-width="0.6"/><line x1="177.30" y1="255.00" x2="176.20" y2="255.00" stroke-width="0.6"/><line x1="34.30" y1="253.05" x2="35.40" y2="253.05" stroke-width="0.6"/><line x1="177.30" y1="253.05" x2="176.20" y2="253.05" stroke-width="0.6"/><line x1="34.30" y1="251.66" x2="35.40" y2="251.66" stroke-width="0.6"/><line x1="177.30" y1="251.66" x2="176.20" y2="251.66" stroke-width="0.6"/><line x1="34.30" y1="250.58" x2="35.40" y2="250.58" stroke-width="0.6"/><line x1="177.30" y1="250.58" x2="176.20" y2="250.58" stroke-width="0.6"/><line x1="34.30" y1="249.70" x2="35.40" y2="249.70" stroke-width="0.6"/><line x1="177.30" y1="249.70" x2="176.20" y2="249.70" stroke-width="0.6"/><line x1="34.30" y1="248.96" x2="35.40" y2="248.96" stroke-width="0.6"/><line x1="177.30" y1="248.96" x2="176.20" y2="248.96" stroke-width="0.6"/><line x1="34.30" y1="248.31" x2="35.40" y2="248.31" stroke-width="0.6"/><line x1="177.30" y1="248.31" x2="176.20" y2="248.31" stroke-width="0.6"/><line x1="34.30" y1="247.74" x2="35.40" y2="247.74" stroke-width="0.6"/><line x1="177.30" y1="247.74" x2="176.20" y2="247.74" stroke-width="0.6"/><line x1="34.30" y1="258.35" x2="36.30" y2="258.35"/><line x1="177.30" y1="258.35" x2="175.30" y2="258.35"/><line x1="34.30" y1="266.12" x2="35.40" y2="266.12" stroke-width="0.6"/><line x1="177.30" y1="266.12" x2="176.20" y2="266.12" stroke-width="0.6"/><line x1="34.30" y1="264.16" x2="35.40" y2="264.16" stroke-width="0.6"/><line x1="177.30" y1="264.16" x2="176.20" y2="264.16" stroke-width="0.6"/><line x1="34.30" y1="262.77" x2="35.40" y2="262.77" stroke-width="0.6"/><line x1="177.30" y1="262.77" x2="176.20" y2="262.77" stroke-width="0.6"/><line x1="34.30" y1="261.70" x2="35.40" y2="261.70" stroke-width="0.6"/><line x1="177.30" y1="261.70" x2="176.20" y2="261.70" stroke-width="0.6"/><line x1="34.30" y1="260.82" x2="35.40" y2="260.82" stroke-width="0.6"/><line x1="177.30" y1="260.82" x2="176.20" y2="260.82" stroke-width="0.6"/><line x1="34.30" y1="260.07" x2="35.40" y2="260.07" stroke-width="0.6"/><line x1="177.30" y1="260.07" x2="176.20" y2="260.07" stroke-width="0.6"/><line x1="34.30" y1="259.43" x2="35.40" y2="259.43" stroke-width="0.6"/><line x1="177.30" y1="259.43" x2="176.20" y2="259.43" stroke-width="0.6"/><line x1="34.30" y1="258.86" x2="35.40" y2="258.86" stroke-width="0.6"/><line x1="177.30" y1="258.86" x2="176.20" y2="258.86" stroke-width="0.6"/><line x1="34.30" y1="269.47" x2="36.30" y2="269.47"/><line x1="177.30" y1="269.47" x2="175.30" y2="269.47"/><line x1="34.30" y1="277.24" x2="35.40" y2="277.24" stroke-width="0.6"/><line x1="177.30" y1="277.24" x2="176.20" y2="277.24" stroke-width="0.6"/><line x1="34.30" y1="275.28" x2="35.40" y2="275.28" stroke-width="0.6"/><line x1="177.30" y1="275.28" x2="176.20" y2="275.28" stroke-width="0.6"/><line x1="34.30" y1="273.89" x2="35.40" y2="273.89" stroke-width="0.6"/><line x1="177.30" y1="273.89" x2="176.20" y2="273.89" stroke-width="0.6"/><line x1="34.30" y1="272.81" x2="35.40" y2="272.81" stroke-width="0.6"/><line x1="177.30" y1="272.81" x2="176.20" y2="272.81" stroke-width="0.6"/><line x1="34.30" y1="271.93" x2="35.40" y2="271.93" stroke-width="0.6"/><line x1="177.30" y1="271.93" x2="176.20" y2="271.93" stroke-width="0.6"/><line x1="34.30" y1="271.19" x2="35.40" y2="271.19" stroke-width="0.6"/><line x1="177.30" y1="271.19" x2="176.20" y2="271.19" stroke-width="0.6"/><line x1="34.30" y1="270.54" x2="35.40" y2="270.54" stroke-width="0.6"/><line x1="177.30" y1="270.54" x2="176.20" y2="270.54" stroke-width="0.6"/><line x1="34.30" y1="269.98" x2="35.40" y2="269.98" stroke-width="0.6"/><line x1="177.30" y1="269.98" x2="176.20" y2="269.98" stroke-width="0.6"/><line x1="34.30" y1="280.58" x2="36.30" y2="280.58"/><line x1="177.30" y1="280.58" x2="175.30" y2="280.58"/><line x1="34.30" y1="288.35" x2="35.40" y2="288.35" stroke-width="0.6"/><line x1="177.30" y1="288.35" x2="176.20" y2="288.35" stroke-width="0.6"/><line x1="34.30" y1="286.40" x2="35.40" y2="286.40" stroke-width="0.6"/><line x1="177.30" y1="286.40" x2="176.20" y2="286.40" stroke-width="0.6"/><line x1="34.30" y1="285.01" x2="35.40" y2="285.01" stroke-width="0.6"/><line x1="177.30" y1="285.01" x2="176.20" y2="285.01" stroke-width="0.6"/><line x1="34.30" y1="283.93" x2="35.40" y2="283.93" stroke-width="0.6"/><line x1="177.30" y1="283.93" x2="176.20" y2="283.93" stroke-width="0.6"/><line x1="34.30" y1="283.05" x2="35.40" y2="283.05" stroke-width="0.6"/><line x1="177.30" y1="283.05" x2="176.20" y2="283.05" stroke-width="0.6"/><line x1="34.30" y1="282.31" x2="35.40" y2="282.31" stroke-width="0.6"/><line x1="177.30" y1="282.31" x2="176.20" y2="282.31" stroke-width="0.6"/><line x1="34.30" y1="281.66" x2="35.40" y2="281.66" stroke-width="0.6"/><line x1="177.30" y1="281.66" x2="176.20" y2="281.66" stroke-width="0.6"/><line x1="34.30" y1="281.09" x2="35.40" y2="281.09" stroke-width="0.6"/><line x1="177.30" y1="281.09" x2="176.20" y2="281.09" stroke-width="0.6"/><line x1="34.30" y1="291.70" x2="36.30" y2="291.70"/><line x1="177.30" y1="291.70" x2="175.30" y2="291.70"/></g>
<rect x="34.3" y="225.0" width="143.00" height="66.70" fill="none" stroke="#000" stroke-width="1.4"/>
<text x="27.9" y="231.60" class="tl" text-anchor="end" textLength="6.1" lengthAdjust="spacingAndGlyphs">10</text>
<text x="28.5" y="228.80" class="ts">0</text>
<text x="26.6" y="253.10" class="tl" text-anchor="end" textLength="6.6" lengthAdjust="spacingAndGlyphs">10</text>
<text x="26.7" y="250.50" class="ts" textLength="4.6" lengthAdjust="spacingAndGlyphs">-2</text>
<text x="26.6" y="274.60" class="tl" text-anchor="end" textLength="6.6" lengthAdjust="spacingAndGlyphs">10</text>
<text x="26.7" y="272.00" class="ts" textLength="4.6" lengthAdjust="spacingAndGlyphs">-4</text>
<text x="26.6" y="294.80" class="tl" text-anchor="end" textLength="6.6" lengthAdjust="spacingAndGlyphs">10</text>
<text x="26.7" y="292.20" class="ts" textLength="4.6" lengthAdjust="spacingAndGlyphs">-6</text>
<line x1="105.80" y1="5.90" x2="105.80" y2="69.60" stroke="#000" stroke-width="1.55"/>
<line x1="88.75" y1="16.00" x2="88.75" y2="69.60" stroke="#000" stroke-width="1.55"/>
<line x1="122.85" y1="16.00" x2="122.85" y2="69.60" stroke="#000" stroke-width="1.55"/>
<line x1="71.70" y1="33.90" x2="71.70" y2="69.60" stroke="#000" stroke-width="1.55"/>
<line x1="139.90" y1="33.90" x2="139.90" y2="69.60" stroke="#000" stroke-width="1.55"/>
<line x1="54.65" y1="55.00" x2="54.65" y2="69.60" stroke="#000" stroke-width="1.55"/>
<line x1="156.95" y1="55.00" x2="156.95" y2="69.60" stroke="#000" stroke-width="1.55"/>
<line x1="88.75" y1="90.20" x2="88.75" y2="144.00" stroke="#0000ff" stroke-width="1.55"/>
<line x1="71.70" y1="108.30" x2="71.70" y2="144.00" stroke="#0000ff" stroke-width="1.55"/>
<line x1="105.80" y1="108.30" x2="105.80" y2="144.00" stroke="#0000ff" stroke-width="1.55"/>
<line x1="122.85" y1="164.40" x2="122.85" y2="218.00" stroke="#ff0000" stroke-width="1.55"/>
<line x1="105.80" y1="182.00" x2="105.80" y2="218.00" stroke="#ff0000" stroke-width="1.55"/>
<line x1="139.90" y1="182.00" x2="139.90" y2="218.00" stroke="#ff0000" stroke-width="1.55"/>
<line x1="105.80" y1="228.80" x2="105.80" y2="291.70" stroke="#ff00ff" stroke-width="1.55"/>
<text x="36.8" y="24.30" class="pl">(a1)</text>
<text x="36.8" y="98.50" class="pl">(a2)</text>
<text x="36.8" y="172.30" class="pl">(a3)</text>
<text x="36.8" y="246.30" class="pl">(a4)</text>
<text x="37.60" y="301.6" class="tx" text-anchor="middle">-4</text>
<text x="71.70" y="301.6" class="tx" text-anchor="middle">-2</text>
<text x="105.80" y="301.6" class="tx" text-anchor="middle">0</text>
<text x="139.90" y="301.6" class="tx" text-anchor="middle">2</text>
<text x="174.00" y="301.6" class="tx" text-anchor="middle">4</text>
<g stroke="#000" stroke-width="1"><line x1="219.70" y1="96.50" x2="219.70" y2="94.50"/><line x1="219.70" y1="3.00" x2="219.70" y2="5.00"/><line x1="238.64" y1="96.50" x2="238.64" y2="94.50"/><line x1="238.64" y1="3.00" x2="238.64" y2="5.00"/><line x1="257.57" y1="96.50" x2="257.57" y2="94.50"/><line x1="257.57" y1="3.00" x2="257.57" y2="5.00"/><line x1="276.51" y1="96.50" x2="276.51" y2="94.50"/><line x1="276.51" y1="3.00" x2="276.51" y2="5.00"/><line x1="295.45" y1="96.50" x2="295.45" y2="94.50"/><line x1="295.45" y1="3.00" x2="295.45" y2="5.00"/><line x1="314.39" y1="96.50" x2="314.39" y2="94.50"/><line x1="314.39" y1="3.00" x2="314.39" y2="5.00"/><line x1="333.32" y1="96.50" x2="333.32" y2="94.50"/><line x1="333.32" y1="3.00" x2="333.32" y2="5.00"/><line x1="352.26" y1="96.50" x2="352.26" y2="94.50"/><line x1="352.26" y1="3.00" x2="352.26" y2="5.00"/><line x1="371.20" y1="96.50" x2="371.20" y2="94.50"/><line x1="371.20" y1="3.00" x2="371.20" y2="5.00"/><line x1="219.70" y1="94.00" x2="221.70" y2="94.00"/><line x1="371.20" y1="94.00" x2="369.20" y2="94.00"/><line x1="219.70" y1="82.91" x2="221.70" y2="82.91"/><line x1="371.20" y1="82.91" x2="369.20" y2="82.91"/><line x1="219.70" y1="71.83" x2="221.70" y2="71.83"/><line x1="371.20" y1="71.83" x2="369.20" y2="71.83"/><line x1="219.70" y1="60.74" x2="221.70" y2="60.74"/><line x1="371.20" y1="60.74" x2="369.20" y2="60.74"/><line x1="219.70" y1="49.65" x2="221.70" y2="49.65"/><line x1="371.20" y1="49.65" x2="369.20" y2="49.65"/><line x1="219.70" y1="38.56" x2="221.70" y2="38.56"/><line x1="371.20" y1="38.56" x2="369.20" y2="38.56"/><line x1="219.70" y1="27.47" x2="221.70" y2="27.47"/><line x1="371.20" y1="27.47" x2="369.20" y2="27.47"/><line x1="219.70" y1="16.39" x2="221.70" y2="16.39"/><line x1="371.20" y1="16.39" x2="369.20" y2="16.39"/><line x1="219.70" y1="5.30" x2="221.70" y2="5.30"/><line x1="371.20" y1="5.30" x2="369.20" y2="5.30"/></g>
<rect x="219.7" y="3.0" width="151.50" height="93.50" fill="none" stroke="#000" stroke-width="1.4"/>
<g stroke="#0000ff" fill="none" stroke-width="1.65" stroke-linecap="round"><polyline points="219.70,49.65 256.89,5.30" stroke-dasharray="0.4 2.75"/><polyline points="256.89,5.30 258.26,94.00" stroke-dasharray="0.3 2.4"/><polyline points="258.26,94.00 332.64,5.30" stroke-dasharray="0.4 2.75"/><polyline points="332.64,5.30 334.01,94.00" stroke-dasharray="0.3 2.4"/><polyline points="334.01,94.00 371.20,49.65" stroke-dasharray="0.4 2.75"/></g>
<g stroke="#ff0000" fill="none" stroke-width="1.65" stroke-linecap="round"><polyline points="219.70,49.65 256.89,94.00" stroke-dasharray="0.4 2.75"/><polyline points="258.26,5.30 256.89,94.00" stroke-dasharray="0.3 2.4"/><polyline points="258.26,5.30 332.64,94.00" stroke-dasharray="0.4 2.75"/><polyline points="334.01,5.30 332.64,94.00" stroke-dasharray="0.3 2.4"/><polyline points="334.01,5.30 371.20,49.65" stroke-dasharray="0.4 2.75"/></g>
<text x="217.3" y="7.50" class="tpis" text-anchor="end">π</text>
<text x="216.6" y="30.07" class="tpi" text-anchor="end">/2</text>
<text x="209.6" y="29.67" class="tpis" text-anchor="end">π</text>
<text x="218.5" y="53.65" class="t10" text-anchor="end">0</text>
<text x="216.6" y="76.03" class="tpi" text-anchor="end">/2</text>
<text x="209.6" y="75.62" class="tpis" text-anchor="end">π</text>
<text x="205.2" y="75.83" class="tpi" text-anchor="end">-</text>
<text x="216.8" y="97.70" class="tpis" text-anchor="end">π</text>
<text x="212.2" y="97.90" class="tpi" text-anchor="end">-</text>
<g stroke="#000" stroke-width="1"><line x1="219.70" y1="218.00" x2="219.70" y2="216.00"/><line x1="219.70" y1="103.50" x2="219.70" y2="105.50"/><line x1="238.64" y1="218.00" x2="238.64" y2="216.00"/><line x1="238.64" y1="103.50" x2="238.64" y2="105.50"/><line x1="257.57" y1="218.00" x2="257.57" y2="216.00"/><line x1="257.57" y1="103.50" x2="257.57" y2="105.50"/><line x1="276.51" y1="218.00" x2="276.51" y2="216.00"/><line x1="276.51" y1="103.50" x2="276.51" y2="105.50"/><line x1="295.45" y1="218.00" x2="295.45" y2="216.00"/><line x1="295.45" y1="103.50" x2="295.45" y2="105.50"/><line x1="314.39" y1="218.00" x2="314.39" y2="216.00"/><line x1="314.39" y1="103.50" x2="314.39" y2="105.50"/><line x1="333.32" y1="218.00" x2="333.32" y2="216.00"/><line x1="333.32" y1="103.50" x2="333.32" y2="105.50"/><line x1="352.26" y1="218.00" x2="352.26" y2="216.00"/><line x1="352.26" y1="103.50" x2="352.26" y2="105.50"/><line x1="371.20" y1="218.00" x2="371.20" y2="216.00"/><line x1="371.20" y1="103.50" x2="371.20" y2="105.50"/><line x1="219.70" y1="218.00" x2="221.70" y2="218.00"/><line x1="371.20" y1="218.00" x2="369.20" y2="218.00"/><line x1="219.70" y1="189.38" x2="221.70" y2="189.38"/><line x1="371.20" y1="189.38" x2="369.20" y2="189.38"/><line x1="219.70" y1="160.75" x2="221.70" y2="160.75"/><line x1="371.20" y1="160.75" x2="369.20" y2="160.75"/><line x1="219.70" y1="132.12" x2="221.70" y2="132.12"/><line x1="371.20" y1="132.12" x2="369.20" y2="132.12"/><line x1="219.70" y1="103.50" x2="221.70" y2="103.50"/><line x1="371.20" y1="103.50" x2="369.20" y2="103.50"/></g>
<rect x="219.7" y="103.5" width="151.50" height="114.50" fill="none" stroke="#000" stroke-width="1.4"/>
<line x1="219.70" y1="173.3" x2="371.20" y2="173.3" stroke="#ff00ff" stroke-width="1.5" stroke-dasharray="5.4 6.0"/>
<polyline points="219.70,195.73 220.08,195.73 220.46,195.74 220.84,195.75 221.21,195.77 221.59,195.80 221.97,195.82 222.35,195.86 222.73,195.90 223.11,195.94 223.49,195.99 223.87,196.04 224.25,196.10 224.62,196.17 225.00,196.24 225.38,196.31 225.76,196.39 226.14,196.47 226.52,196.56 226.90,196.65 227.27,196.75 227.65,196.85 228.03,196.95 228.41,197.06 228.79,197.17 229.17,197.29 229.55,197.41 229.93,197.53 230.31,197.66 230.68,197.79 231.06,197.92 231.44,198.06 231.82,198.20 232.20,198.34 232.58,198.49 232.96,198.64 233.33,198.79 233.71,198.94 234.09,199.09 234.47,199.25 234.85,199.41 235.23,199.57 235.61,199.73 235.99,199.89 236.36,200.06 236.74,200.22 237.12,200.39 237.50,200.55 237.88,200.72 238.26,200.89 238.64,201.05 239.02,201.22 239.39,201.39 239.77,201.56 240.15,201.72 240.53,201.89 240.91,202.05 241.29,202.22 241.67,202.38 242.05,202.54 242.42,202.70 242.80,202.86 243.18,203.01 243.56,203.17 243.94,203.32 244.32,203.47 244.70,203.62 245.08,203.76 245.45,203.91 245.83,204.05 246.21,204.18 246.59,204.32 246.97,204.45 247.35,204.57 247.73,204.70 248.11,204.82 248.48,204.94 248.86,205.05 249.24,205.16 249.62,205.26 250.00,205.36 250.38,205.46 250.76,205.55 251.14,205.64 251.51,205.72 251.89,205.80 252.27,205.87 252.65,205.94 253.03,206.00 253.41,206.06 253.79,206.12 254.17,206.17 254.54,206.21 254.92,206.25 255.30,206.28 255.68,206.31 256.06,206.34 256.44,206.35 256.82,206.37 257.20,206.38 257.57,206.38 257.95,206.38 258.33,206.37 258.71,206.35 259.09,206.34 259.47,206.31 259.85,206.28 260.23,206.25 260.61,206.21 260.98,206.17 261.36,206.12 261.74,206.06 262.12,206.00 262.50,205.94 262.88,205.87 263.26,205.80 263.63,205.72 264.01,205.64 264.39,205.55 264.77,205.46 265.15,205.36 265.53,205.26 265.91,205.16 266.29,205.05 266.66,204.94 267.04,204.82 267.42,204.70 267.80,204.57 268.18,204.45 268.56,204.32 268.94,204.18 269.32,204.05 269.69,203.91 270.07,203.76 270.45,203.62 270.83,203.47 271.21,203.32 271.59,203.17 271.97,203.01 272.35,202.86 272.72,202.70 273.10,202.54 273.48,202.38 273.86,202.22 274.24,202.05 274.62,201.89 275.00,201.72 275.38,201.56 275.75,201.39 276.13,201.22 276.51,201.05 276.89,200.89 277.27,200.72 277.65,200.55 278.03,200.39 278.41,200.22 278.78,200.06 279.16,199.89 279.54,199.73 279.92,199.57 280.30,199.41 280.68,199.25 281.06,199.09 281.44,198.94 281.81,198.79 282.19,198.64 282.57,198.49 282.95,198.34 283.33,198.20 283.71,198.06 284.09,197.92 284.47,197.79 284.84,197.66 285.22,197.53 285.60,197.41 285.98,197.29 286.36,197.17 286.74,197.06 287.12,196.95 287.50,196.85 287.88,196.75 288.25,196.65 288.63,196.56 289.01,196.47 289.39,196.39 289.77,196.31 290.15,196.24 290.53,196.17 290.90,196.10 291.28,196.04 291.66,195.99 292.04,195.94 292.42,195.90 292.80,195.86 293.18,195.82 293.56,195.80 293.94,195.77 294.31,195.75 294.69,195.74 295.07,195.73 295.45,195.73 295.83,195.73 296.21,195.74 296.59,195.75 296.96,195.77 297.34,195.80 297.72,195.82 298.10,195.86 298.48,195.90 298.86,195.94 299.24,195.99 299.62,196.04 300.00,196.10 300.37,196.17 300.75,196.24 301.13,196.31 301.51,196.39 301.89,196.47 302.27,196.56 302.65,196.65 303.02,196.75 303.40,196.85 303.78,196.95 304.16,197.06 304.54,197.17 304.92,197.29 305.30,197.41 305.68,197.53 306.06,197.66 306.43,197.79 306.81,197.92 307.19,198.06 307.57,198.20 307.95,198.34 308.33,198.49 308.71,198.64 309.08,198.79 309.46,198.94 309.84,199.09 310.22,199.25 310.60,199.41 310.98,199.57 311.36,199.73 311.74,199.89 312.12,200.06 312.49,200.22 312.87,200.39 313.25,200.55 313.63,200.72 314.01,200.89 314.39,201.05 314.77,201.22 315.14,201.39 315.52,201.56 315.90,201.72 316.28,201.89 316.66,202.05 317.04,202.22 317.42,202.38 317.80,202.54 318.18,202.70 318.55,202.86 318.93,203.01 319.31,203.17 319.69,203.32 320.07,203.47 320.45,203.62 320.83,203.76 321.20,203.91 321.58,204.05 321.96,204.18 322.34,204.32 322.72,204.45 323.10,204.57 323.48,204.70 323.86,204.82 324.23,204.94 324.61,205.05 324.99,205.16 325.37,205.26 325.75,205.36 326.13,205.46 326.51,205.55 326.89,205.64 327.26,205.72 327.64,205.80 328.02,205.87 328.40,205.94 328.78,206.00 329.16,206.06 329.54,206.12 329.92,206.17 330.29,206.21 330.67,206.25 331.05,206.28 331.43,206.31 331.81,206.34 332.19,206.35 332.57,206.37 332.95,206.38 333.32,206.38 333.70,206.38 334.08,206.37 334.46,206.35 334.84,206.34 335.22,206.31 335.60,206.28 335.98,206.25 336.36,206.21 336.73,206.17 337.11,206.12 337.49,206.06 337.87,206.00 338.25,205.94 338.63,205.87 339.01,205.80 339.38,205.72 339.76,205.64 340.14,205.55 340.52,205.46 340.90,205.36 341.28,205.26 341.66,205.16 342.04,205.05 342.42,204.94 342.79,204.82 343.17,204.70 343.55,204.57 343.93,204.45 344.31,204.32 344.69,204.18 345.07,204.05 345.44,203.91 345.82,203.76 346.20,203.62 346.58,203.47 346.96,203.32 347.34,203.17 347.72,203.01 348.10,202.86 348.47,202.70 348.85,202.54 349.23,202.38 349.61,202.22 349.99,202.05 350.37,201.89 350.75,201.72 351.13,201.56 351.50,201.39 351.88,201.22 352.26,201.05 352.64,200.89 353.02,200.72 353.40,200.55 353.78,200.39 354.16,200.22 354.53,200.06 354.91,199.89 355.29,199.73 355.67,199.57 356.05,199.41 356.43,199.25 356.81,199.09 357.19,198.94 357.56,198.79 357.94,198.64 358.32,198.49 358.70,198.34 359.08,198.20 359.46,198.06 359.84,197.92 360.22,197.79 360.60,197.66 360.97,197.53 361.35,197.41 361.73,197.29 362.11,197.17 362.49,197.06 362.87,196.95 363.25,196.85 363.62,196.75 364.00,196.65 364.38,196.56 364.76,196.47 365.14,196.39 365.52,196.31 365.90,196.24 366.28,196.17 366.65,196.10 367.03,196.04 367.41,195.99 367.79,195.94 368.17,195.90 368.55,195.86 368.93,195.82 369.31,195.80 369.69,195.77 370.06,195.75 370.44,195.74 370.82,195.73 371.20,195.73" fill="none" stroke="#0000ff" stroke-width="1.6"/>
<polyline points="219.70,195.73 220.08,195.73 220.46,195.74 220.84,195.75 221.21,195.77 221.59,195.80 221.97,195.82 222.35,195.86 222.73,195.90 223.11,195.94 223.49,195.99 223.87,196.04 224.25,196.10 224.62,196.17 225.00,196.24 225.38,196.31 225.76,196.39 226.14,196.47 226.52,196.56 226.90,196.65 227.27,196.75 227.65,196.85 228.03,196.95 228.41,197.06 228.79,197.17 229.17,197.29 229.55,197.41 229.93,197.53 230.31,197.66 230.68,197.79 231.06,197.92 231.44,198.06 231.82,198.20 232.20,198.34 232.58,198.49 232.96,198.64 233.33,198.79 233.71,198.94 234.09,199.09 234.47,199.25 234.85,199.41 235.23,199.57 235.61,199.73 235.99,199.89 236.36,200.06 236.74,200.22 237.12,200.39 237.50,200.55 237.88,200.72 238.26,200.89 238.64,201.05 239.02,201.22 239.39,201.39 239.77,201.56 240.15,201.72 240.53,201.89 240.91,202.05 241.29,202.22 241.67,202.38 242.05,202.54 242.42,202.70 242.80,202.86 243.18,203.01 243.56,203.17 243.94,203.32 244.32,203.47 244.70,203.62 245.08,203.76 245.45,203.91 245.83,204.05 246.21,204.18 246.59,204.32 246.97,204.45 247.35,204.57 247.73,204.70 248.11,204.82 248.48,204.94 248.86,205.05 249.24,205.16 249.62,205.26 250.00,205.36 250.38,205.46 250.76,205.55 251.14,205.64 251.51,205.72 251.89,205.80 252.27,205.87 252.65,205.94 253.03,206.00 253.41,206.06 253.79,206.12 254.17,206.17 254.54,206.21 254.92,206.25 255.30,206.28 255.68,206.31 256.06,206.34 256.44,206.35 256.82,206.37 257.20,206.38 257.57,206.38 257.95,206.38 258.33,206.37 258.71,206.35 259.09,206.34 259.47,206.31 259.85,206.28 260.23,206.25 260.61,206.21 260.98,206.17 261.36,206.12 261.74,206.06 262.12,206.00 262.50,205.94 262.88,205.87 263.26,205.80 263.63,205.72 264.01,205.64 264.39,205.55 264.77,205.46 265.15,205.36 265.53,205.26 265.91,205.16 266.29,205.05 266.66,204.94 267.04,204.82 267.42,204.70 267.80,204.57 268.18,204.45 268.56,204.32 268.94,204.18 269.32,204.05 269.69,203.91 270.07,203.76 270.45,203.62 270.83,203.47 271.21,203.32 271.59,203.17 271.97,203.01 272.35,202.86 272.72,202.70 273.10,202.54 273.48,202.38 273.86,202.22 274.24,202.05 274.62,201.89 275.00,201.72 275.38,201.56 275.75,201.39 276.13,201.22 276.51,201.05 276.89,200.89 277.27,200.72 277.65,200.55 278.03,200.39 278.41,200.22 278.78,200.06 279.16,199.89 279.54,199.73 279.92,199.57 280.30,199.41 280.68,199.25 281.06,199.09 281.44,198.94 281.81,198.79 282.19,198.64 282.57,198.49 282.95,198.34 283.33,198.20 283.71,198.06 284.09,197.92 284.47,197.79 284.84,197.66 285.22,197.53 285.60,197.41 285.98,197.29 286.36,197.17 286.74,197.06 287.12,196.95 287.50,196.85 287.88,196.75 288.25,196.65 288.63,196.56 289.01,196.47 289.39,196.39 289.77,196.31 290.15,196.24 290.53,196.17 290.90,196.10 291.28,196.04 291.66,195.99 292.04,195.94 292.42,195.90 292.80,195.86 293.18,195.82 293.56,195.80 293.94,195.77 294.31,195.75 294.69,195.74 295.07,195.73 295.45,195.73 295.83,195.73 296.21,195.74 296.59,195.75 296.96,195.77 297.34,195.80 297.72,195.82 298.10,195.86 298.48,195.90 298.86,195.94 299.24,195.99 299.62,196.04 300.00,196.10 300.37,196.17 300.75,196.24 301.13,196.31 301.51,196.39 301.89,196.47 302.27,196.56 302.65,196.65 303.02,196.75 303.40,196.85 303.78,196.95 304.16,197.06 304.54,197.17 304.92,197.29 305.30,197.41 305.68,197.53 306.06,197.66 306.43,197.79 306.81,197.92 307.19,198.06 307.57,198.20 307.95,198.34 308.33,198.49 308.71,198.64 309.08,198.79 309.46,198.94 309.84,199.09 310.22,199.25 310.60,199.41 310.98,199.57 311.36,199.73 311.74,199.89 312.12,200.06 312.49,200.22 312.87,200.39 313.25,200.55 313.63,200.72 314.01,200.89 314.39,201.05 314.77,201.22 315.14,201.39 315.52,201.56 315.90,201.72 316.28,201.89 316.66,202.05 317.04,202.22 317.42,202.38 317.80,202.54 318.18,202.70 318.55,202.86 318.93,203.01 319.31,203.17 319.69,203.32 320.07,203.47 320.45,203.62 320.83,203.76 321.20,203.91 321.58,204.05 321.96,204.18 322.34,204.32 322.72,204.45 323.10,204.57 323.48,204.70 323.86,204.82 324.23,204.94 324.61,205.05 324.99,205.16 325.37,205.26 325.75,205.36 326.13,205.46 326.51,205.55 326.89,205.64 327.26,205.72 327.64,205.80 328.02,205.87 328.40,205.94 328.78,206.00 329.16,206.06 329.54,206.12 329.92,206.17 330.29,206.21 330.67,206.25 331.05,206.28 331.43,206.31 331.81,206.34 332.19,206.35 332.57,206.37 332.95,206.38 333.32,206.38 333.70,206.38 334.08,206.37 334.46,206.35 334.84,206.34 335.22,206.31 335.60,206.28 335.98,206.25 336.36,206.21 336.73,206.17 337.11,206.12 337.49,206.06 337.87,206.00 338.25,205.94 338.63,205.87 339.01,205.80 339.38,205.72 339.76,205.64 340.14,205.55 340.52,205.46 340.90,205.36 341.28,205.26 341.66,205.16 342.04,205.05 342.42,204.94 342.79,204.82 343.17,204.70 343.55,204.57 343.93,204.45 344.31,204.32 344.69,204.18 345.07,204.05 345.44,203.91 345.82,203.76 346.20,203.62 346.58,203.47 346.96,203.32 347.34,203.17 347.72,203.01 348.10,202.86 348.47,202.70 348.85,202.54 349.23,202.38 349.61,202.22 349.99,202.05 350.37,201.89 350.75,201.72 351.13,201.56 351.50,201.39 351.88,201.22 352.26,201.05 352.64,200.89 353.02,200.72 353.40,200.55 353.78,200.39 354.16,200.22 354.53,200.06 354.91,199.89 355.29,199.73 355.67,199.57 356.05,199.41 356.43,199.25 356.81,199.09 357.19,198.94 357.56,198.79 357.94,198.64 358.32,198.49 358.70,198.34 359.08,198.20 359.46,198.06 359.84,197.92 360.22,197.79 360.60,197.66 360.97,197.53 361.35,197.41 361.73,197.29 362.11,197.17 362.49,197.06 362.87,196.95 363.25,196.85 363.62,196.75 364.00,196.65 364.38,196.56 364.76,196.47 365.14,196.39 365.52,196.31 365.90,196.24 366.28,196.17 366.65,196.10 367.03,196.04 367.41,195.99 367.79,195.94 368.17,195.90 368.55,195.86 368.93,195.82 369.31,195.80 369.69,195.77 370.06,195.75 370.44,195.74 370.82,195.73 371.20,195.73" fill="none" stroke="#ff0000" stroke-width="1.6" stroke-dasharray="5.4 5.4"/>
<polyline points="219.70,127.55 220.08,127.57 220.46,127.66 220.84,127.80 221.21,128.00 221.59,128.25 221.97,128.56 222.35,128.92 222.73,129.34 223.11,129.81 223.49,130.33 223.87,130.90 224.25,131.52 224.62,132.19 225.00,132.91 225.38,133.67 225.76,134.47 226.14,135.32 226.52,136.20 226.90,137.13 227.27,138.08 227.65,139.08 228.03,140.10 228.41,141.15 228.79,142.23 229.17,143.34 229.55,144.47 229.93,145.62 230.31,146.79 230.68,147.97 231.06,149.17 231.44,150.38 231.82,151.60 232.20,152.83 232.58,154.06 232.96,155.29 233.33,156.52 233.71,157.76 234.09,158.99 234.47,160.21 234.85,161.42 235.23,162.63 235.61,163.82 235.99,165.01 236.36,166.17 236.74,167.32 237.12,168.45 237.50,169.57 237.88,170.66 238.26,171.73 238.64,172.77 239.02,173.79 239.39,174.79 239.77,175.76 240.15,176.70 240.53,177.62 240.91,178.51 241.29,179.37 241.67,180.20 242.05,181.00 242.42,181.77 242.80,182.51 243.18,183.22 243.56,183.90 243.94,184.56 244.32,185.18 244.70,185.77 245.08,186.34 245.45,186.88 245.83,187.39 246.21,187.87 246.59,188.32 246.97,188.75 247.35,189.16 247.73,189.54 248.11,189.90 248.48,190.23 248.86,190.54 249.24,190.83 249.62,191.10 250.00,191.35 250.38,191.58 250.76,191.79 251.14,191.99 251.51,192.17 251.89,192.33 252.27,192.48 252.65,192.62 253.03,192.74 253.41,192.85 253.79,192.95 254.17,193.03 254.54,193.11 254.92,193.18 255.30,193.23 255.68,193.28 256.06,193.32 256.44,193.35 256.82,193.37 257.20,193.38 257.57,193.38 257.95,193.38 258.33,193.37 258.71,193.35 259.09,193.32 259.47,193.28 259.85,193.23 260.23,193.18 260.61,193.11 260.98,193.03 261.36,192.95 261.74,192.85 262.12,192.74 262.50,192.62 262.88,192.48 263.26,192.33 263.63,192.17 264.01,191.99 264.39,191.79 264.77,191.58 265.15,191.35 265.53,191.10 265.91,190.83 266.29,190.54 266.66,190.23 267.04,189.90 267.42,189.54 267.80,189.16 268.18,188.75 268.56,188.32 268.94,187.87 269.32,187.39 269.69,186.88 270.07,186.34 270.45,185.77 270.83,185.18 271.21,184.56 271.59,183.90 271.97,183.22 272.35,182.51 272.72,181.77 273.10,181.00 273.48,180.20 273.86,179.37 274.24,178.51 274.62,177.62 275.00,176.70 275.38,175.76 275.75,174.79 276.13,173.79 276.51,172.77 276.89,171.73 277.27,170.66 277.65,169.57 278.03,168.45 278.41,167.32 278.78,166.17 279.16,165.01 279.54,163.82 279.92,162.63 280.30,161.42 280.68,160.21 281.06,158.99 281.44,157.76 281.81,156.52 282.19,155.29 282.57,154.06 282.95,152.83 283.33,151.60 283.71,150.38 284.09,149.17 284.47,147.97 284.84,146.79 285.22,145.62 285.60,144.47 285.98,143.34 286.36,142.23 286.74,141.15 287.12,140.10 287.50,139.08 287.88,138.08 288.25,137.13 288.63,136.20 289.01,135.32 289.39,134.47 289.77,133.67 290.15,132.91 290.53,132.19 290.90,131.52 291.28,130.90 291.66,130.33 292.04,129.81 292.42,129.34 292.80,128.92 293.18,128.56 293.56,128.25 293.94,128.00 294.31,127.80 294.69,127.66 295.07,127.57 295.45,127.55 295.83,127.57 296.21,127.66 296.59,127.80 296.96,128.00 297.34,128.25 297.72,128.56 298.10,128.92 298.48,129.34 298.86,129.81 299.24,130.33 299.62,130.90 300.00,131.52 300.37,132.19 300.75,132.91 301.13,133.67 301.51,134.47 301.89,135.32 302.27,136.20 302.65,137.13 303.02,138.08 303.40,139.08 303.78,140.10 304.16,141.15 304.54,142.23 304.92,143.34 305.30,144.47 305.68,145.62 306.06,146.79 306.43,147.97 306.81,149.17 307.19,150.38 307.57,151.60 307.95,152.83 308.33,154.06 308.71,155.29 309.08,156.52 309.46,157.76 309.84,158.99 310.22,160.21 310.60,161.42 310.98,162.63 311.36,163.82 311.74,165.01 312.12,166.17 312.49,167.32 312.87,168.45 313.25,169.57 313.63,170.66 314.01,171.73 314.39,172.77 314.77,173.79 315.14,174.79 315.52,175.76 315.90,176.70 316.28,177.62 316.66,178.51 317.04,179.37 317.42,180.20 317.80,181.00 318.18,181.77 318.55,182.51 318.93,183.22 319.31,183.90 319.69,184.56 320.07,185.18 320.45,185.77 320.83,186.34 321.20,186.88 321.58,187.39 321.96,187.87 322.34,188.32 322.72,188.75 323.10,189.16 323.48,189.54 323.86,189.90 324.23,190.23 324.61,190.54 324.99,190.83 325.37,191.10 325.75,191.35 326.13,191.58 326.51,191.79 326.89,191.99 327.26,192.17 327.64,192.33 328.02,192.48 328.40,192.62 328.78,192.74 329.16,192.85 329.54,192.95 329.92,193.03 330.29,193.11 330.67,193.18 331.05,193.23 331.43,193.28 331.81,193.32 332.19,193.35 332.57,193.37 332.95,193.38 333.32,193.38 333.70,193.38 334.08,193.37 334.46,193.35 334.84,193.32 335.22,193.28 335.60,193.23 335.98,193.18 336.36,193.11 336.73,193.03 337.11,192.95 337.49,192.85 337.87,192.74 338.25,192.62 338.63,192.48 339.01,192.33 339.38,192.17 339.76,191.99 340.14,191.79 340.52,191.58 340.90,191.35 341.28,191.10 341.66,190.83 342.04,190.54 342.42,190.23 342.79,189.90 343.17,189.54 343.55,189.16 343.93,188.75 344.31,188.32 344.69,187.87 345.07,187.39 345.44,186.88 345.82,186.34 346.20,185.77 346.58,185.18 346.96,184.56 347.34,183.90 347.72,183.22 348.10,182.51 348.47,181.77 348.85,181.00 349.23,180.20 349.61,179.37 349.99,178.51 350.37,177.62 350.75,176.70 351.13,175.76 351.50,174.79 351.88,173.79 352.26,172.77 352.64,171.73 353.02,170.66 353.40,169.57 353.78,168.45 354.16,167.32 354.53,166.17 354.91,165.01 355.29,163.82 355.67,162.63 356.05,161.42 356.43,160.21 356.81,158.99 357.19,157.76 357.56,156.52 357.94,155.29 358.32,154.06 358.70,152.83 359.08,151.60 359.46,150.38 359.84,149.17 360.22,147.97 360.60,146.79 360.97,145.62 361.35,144.47 361.73,143.34 362.11,142.23 362.49,141.15 362.87,140.10 363.25,139.08 363.62,138.08 364.00,137.13 364.38,136.20 364.76,135.32 365.14,134.47 365.52,133.67 365.90,132.91 366.28,132.19 366.65,131.52 367.03,130.90 367.41,130.33 367.79,129.81 368.17,129.34 368.55,128.92 368.93,128.56 369.31,128.25 369.69,128.00 370.06,127.80 370.44,127.66 370.82,127.57 371.20,127.55" fill="none" stroke="#000" stroke-width="1.5"/>
<g fill="#000"><circle cx="219.70" cy="127.55" r="1.9"/><circle cx="222.07" cy="128.65" r="1.9"/><circle cx="224.43" cy="131.85" r="1.9"/><circle cx="226.80" cy="136.89" r="1.9"/><circle cx="229.17" cy="143.34" r="1.9"/><circle cx="231.54" cy="150.68" r="1.9"/><circle cx="233.90" cy="158.37" r="1.9"/><circle cx="236.27" cy="165.88" r="1.9"/><circle cx="238.64" cy="172.77" r="1.9"/><circle cx="241.00" cy="178.73" r="1.9"/><circle cx="243.37" cy="183.57" r="1.9"/><circle cx="245.74" cy="187.26" r="1.9"/><circle cx="248.11" cy="189.90" r="1.9"/><circle cx="250.47" cy="191.63" r="1.9"/><circle cx="252.84" cy="192.68" r="1.9"/><circle cx="255.21" cy="193.22" r="1.9"/><circle cx="257.57" cy="193.38" r="1.9"/><circle cx="259.94" cy="193.22" r="1.9"/><circle cx="262.31" cy="192.68" r="1.9"/><circle cx="264.68" cy="191.63" r="1.9"/><circle cx="267.04" cy="189.90" r="1.9"/><circle cx="269.41" cy="187.26" r="1.9"/><circle cx="271.78" cy="183.57" r="1.9"/><circle cx="274.15" cy="178.73" r="1.9"/><circle cx="276.51" cy="172.77" r="1.9"/><circle cx="278.88" cy="165.88" r="1.9"/><circle cx="281.25" cy="158.37" r="1.9"/><circle cx="283.61" cy="150.68" r="1.9"/><circle cx="285.98" cy="143.34" r="1.9"/><circle cx="288.35" cy="136.89" r="1.9"/><circle cx="290.72" cy="131.85" r="1.9"/><circle cx="293.08" cy="128.65" r="1.9"/><circle cx="295.45" cy="127.55" r="1.9"/><circle cx="297.82" cy="128.65" r="1.9"/><circle cx="300.18" cy="131.85" r="1.9"/><circle cx="302.55" cy="136.89" r="1.9"/><circle cx="304.92" cy="143.34" r="1.9"/><circle cx="307.29" cy="150.68" r="1.9"/><circle cx="309.65" cy="158.37" r="1.9"/><circle cx="312.02" cy="165.88" r="1.9"/><circle cx="314.39" cy="172.77" r="1.9"/><circle cx="316.75" cy="178.73" r="1.9"/><circle cx="319.12" cy="183.57" r="1.9"/><circle cx="321.49" cy="187.26" r="1.9"/><circle cx="323.86" cy="189.90" r="1.9"/><circle cx="326.22" cy="191.63" r="1.9"/><circle cx="328.59" cy="192.68" r="1.9"/><circle cx="330.96" cy="193.22" r="1.9"/><circle cx="333.32" cy="193.38" r="1.9"/><circle cx="335.69" cy="193.22" r="1.9"/><circle cx="338.06" cy="192.68" r="1.9"/><circle cx="340.43" cy="191.63" r="1.9"/><circle cx="342.79" cy="189.90" r="1.9"/><circle cx="345.16" cy="187.26" r="1.9"/><circle cx="347.53" cy="183.57" r="1.9"/><circle cx="349.90" cy="178.73" r="1.9"/><circle cx="352.26" cy="172.77" r="1.9"/><circle cx="354.63" cy="165.88" r="1.9"/><circle cx="357.00" cy="158.37" r="1.9"/><circle cx="359.36" cy="150.68" r="1.9"/><circle cx="361.73" cy="143.34" r="1.9"/><circle cx="364.10" cy="136.89" r="1.9"/><circle cx="366.47" cy="131.85" r="1.9"/><circle cx="368.83" cy="128.65" r="1.9"/><circle cx="371.20" cy="127.55" r="1.9"/></g>
<text x="217.2" y="221.70" class="tr" text-anchor="end">0</text>
<text x="217.2" y="193.07" class="tr" text-anchor="end">0.5</text>
<text x="217.2" y="164.45" class="tr" text-anchor="end">1</text>
<text x="217.2" y="135.82" class="tr" text-anchor="end">1.5</text>
<text x="217.2" y="107.20" class="tr" text-anchor="end">2</text>
<g stroke="#000" stroke-width="1"><line x1="219.70" y1="291.70" x2="219.70" y2="289.70"/><line x1="219.70" y1="225.00" x2="219.70" y2="227.00"/><line x1="238.64" y1="291.70" x2="238.64" y2="289.70"/><line x1="238.64" y1="225.00" x2="238.64" y2="227.00"/><line x1="257.57" y1="291.70" x2="257.57" y2="289.70"/><line x1="257.57" y1="225.00" x2="257.57" y2="227.00"/><line x1="276.51" y1="291.70" x2="276.51" y2="289.70"/><line x1="276.51" y1="225.00" x2="276.51" y2="227.00"/><line x1="295.45" y1="291.70" x2="295.45" y2="289.70"/><line x1="295.45" y1="225.00" x2="295.45" y2="227.00"/><line x1="314.39" y1="291.70" x2="314.39" y2="289.70"/><line x1="314.39" y1="225.00" x2="314.39" y2="227.00"/><line x1="333.32" y1="291.70" x2="333.32" y2="289.70"/><line x1="333.32" y1="225.00" x2="333.32" y2="227.00"/><line x1="352.26" y1="291.70" x2="352.26" y2="289.70"/><line x1="352.26" y1="225.00" x2="352.26" y2="227.00"/><line x1="371.20" y1="291.70" x2="371.20" y2="289.70"/><line x1="371.20" y1="225.00" x2="371.20" y2="227.00"/><line x1="219.70" y1="291.70" x2="221.70" y2="291.70"/><line x1="371.20" y1="291.70" x2="369.20" y2="291.70"/><line x1="219.70" y1="268.00" x2="221.70" y2="268.00"/><line x1="371.20" y1="268.00" x2="369.20" y2="268.00"/><line x1="219.70" y1="244.30" x2="221.70" y2="244.30"/><line x1="371.20" y1="244.30" x2="369.20" y2="244.30"/></g>
<rect x="219.7" y="225.0" width="151.50" height="66.70" fill="none" stroke="#000" stroke-width="1.4"/>
<polyline points="219.70,232.54 220.08,232.57 220.46,232.68 220.84,232.87 221.21,233.13 221.59,233.46 221.97,233.86 222.35,234.32 222.73,234.86 223.11,235.46 223.49,236.12 223.87,236.85 224.25,237.63 224.62,238.46 225.00,239.34 225.38,240.28 225.76,241.25 226.14,242.27 226.52,243.32 226.90,244.41 227.27,245.52 227.65,246.66 228.03,247.82 228.41,249.00 228.79,250.19 229.17,251.39 229.55,252.60 229.93,253.82 230.31,255.03 230.68,256.24 231.06,257.44 231.44,258.64 231.82,259.82 232.20,260.99 232.58,262.13 232.96,263.26 233.33,264.37 233.71,265.46 234.09,266.52 234.47,267.55 234.85,268.56 235.23,269.53 235.61,270.48 235.99,271.39 236.36,272.28 236.74,273.13 237.12,273.95 237.50,274.74 237.88,275.49 238.26,276.22 238.64,276.91 239.02,277.57 239.39,278.20 239.77,278.80 240.15,279.37 240.53,279.91 240.91,280.42 241.29,280.91 241.67,281.37 242.05,281.80 242.42,282.21 242.80,282.59 243.18,282.95 243.56,283.29 243.94,283.61 244.32,283.91 244.70,284.19 245.08,284.45 245.45,284.70 245.83,284.92 246.21,285.14 246.59,285.33 246.97,285.52 247.35,285.69 247.73,285.84 248.11,285.99 248.48,286.12 248.86,286.25 249.24,286.36 249.62,286.47 250.00,286.56 250.38,286.65 250.76,286.73 251.14,286.81 251.51,286.87 251.89,286.94 252.27,286.99 252.65,287.04 253.03,287.09 253.41,287.13 253.79,287.16 254.17,287.19 254.54,287.22 254.92,287.24 255.30,287.26 255.68,287.28 256.06,287.29 256.44,287.30 256.82,287.31 257.20,287.32 257.57,287.32 257.95,287.32 258.33,287.31 258.71,287.30 259.09,287.29 259.47,287.28 259.85,287.26 260.23,287.24 260.61,287.22 260.98,287.19 261.36,287.16 261.74,287.13 262.12,287.09 262.50,287.04 262.88,286.99 263.26,286.94 263.63,286.87 264.01,286.81 264.39,286.73 264.77,286.65 265.15,286.56 265.53,286.47 265.91,286.36 266.29,286.25 266.66,286.12 267.04,285.99 267.42,285.84 267.80,285.69 268.18,285.52 268.56,285.33 268.94,285.14 269.32,284.92 269.69,284.70 270.07,284.45 270.45,284.19 270.83,283.91 271.21,283.61 271.59,283.29 271.97,282.95 272.35,282.59 272.72,282.21 273.10,281.80 273.48,281.37 273.86,280.91 274.24,280.42 274.62,279.91 275.00,279.37 275.38,278.80 275.75,278.20 276.13,277.57 276.51,276.91 276.89,276.22 277.27,275.49 277.65,274.74 278.03,273.95 278.41,273.13 278.78,272.28 279.16,271.39 279.54,270.48 279.92,269.53 280.30,268.56 280.68,267.55 281.06,266.52 281.44,265.46 281.81,264.37 282.19,263.26 282.57,262.13 282.95,260.99 283.33,259.82 283.71,258.64 284.09,257.44 284.47,256.24 284.84,255.03 285.22,253.82 285.60,252.60 285.98,251.39 286.36,250.19 286.74,249.00 287.12,247.82 287.50,246.66 287.88,245.52 288.25,244.41 288.63,243.32 289.01,242.27 289.39,241.25 289.77,240.28 290.15,239.34 290.53,238.46 290.90,237.63 291.28,236.85 291.66,236.12 292.04,235.46 292.42,234.86 292.80,234.32 293.18,233.86 293.56,233.46 293.94,233.13 294.31,232.87 294.69,232.68 295.07,232.57 295.45,232.54 295.83,232.57 296.21,232.68 296.59,232.87 296.96,233.13 297.34,233.46 297.72,233.86 298.10,234.32 298.48,234.86 298.86,235.46 299.24,236.12 299.62,236.85 300.00,237.63 300.37,238.46 300.75,239.34 301.13,240.28 301.51,241.25 301.89,242.27 302.27,243.32 302.65,244.41 303.02,245.52 303.40,246.66 303.78,247.82 304.16,249.00 304.54,250.19 304.92,251.39 305.30,252.60 305.68,253.82 306.06,255.03 306.43,256.24 306.81,257.44 307.19,258.64 307.57,259.82 307.95,260.99 308.33,262.13 308.71,263.26 309.08,264.37 309.46,265.46 309.84,266.52 310.22,267.55 310.60,268.56 310.98,269.53 311.36,270.48 311.74,271.39 312.12,272.28 312.49,273.13 312.87,273.95 313.25,274.74 313.63,275.49 314.01,276.22 314.39,276.91 314.77,277.57 315.14,278.20 315.52,278.80 315.90,279.37 316.28,279.91 316.66,280.42 317.04,280.91 317.42,281.37 317.80,281.80 318.18,282.21 318.55,282.59 318.93,282.95 319.31,283.29 319.69,283.61 320.07,283.91 320.45,284.19 320.83,284.45 321.20,284.70 321.58,284.92 321.96,285.14 322.34,285.33 322.72,285.52 323.10,285.69 323.48,285.84 323.86,285.99 324.23,286.12 324.61,286.25 324.99,286.36 325.37,286.47 325.75,286.56 326.13,286.65 326.51,286.73 326.89,286.81 327.26,286.87 327.64,286.94 328.02,286.99 328.40,287.04 328.78,287.09 329.16,287.13 329.54,287.16 329.92,287.19 330.29,287.22 330.67,287.24 331.05,287.26 331.43,287.28 331.81,287.29 332.19,287.30 332.57,287.31 332.95,287.32 333.32,287.32 333.70,287.32 334.08,287.31 334.46,287.30 334.84,287.29 335.22,287.28 335.60,287.26 335.98,287.24 336.36,287.22 336.73,287.19 337.11,287.16 337.49,287.13 337.87,287.09 338.25,287.04 338.63,286.99 339.01,286.94 339.38,286.87 339.76,286.81 340.14,286.73 340.52,286.65 340.90,286.56 341.28,286.47 341.66,286.36 342.04,286.25 342.42,286.12 342.79,285.99 343.17,285.84 343.55,285.69 343.93,285.52 344.31,285.33 344.69,285.14 345.07,284.92 345.44,284.70 345.82,284.45 346.20,284.19 346.58,283.91 346.96,283.61 347.34,283.29 347.72,282.95 348.10,282.59 348.47,282.21 348.85,281.80 349.23,281.37 349.61,280.91 349.99,280.42 350.37,279.91 350.75,279.37 351.13,278.80 351.50,278.20 351.88,277.57 352.26,276.91 352.64,276.22 353.02,275.49 353.40,274.74 353.78,273.95 354.16,273.13 354.53,272.28 354.91,271.39 355.29,270.48 355.67,269.53 356.05,268.56 356.43,267.55 356.81,266.52 357.19,265.46 357.56,264.37 357.94,263.26 358.32,262.13 358.70,260.99 359.08,259.82 359.46,258.64 359.84,257.44 360.22,256.24 360.60,255.03 360.97,253.82 361.35,252.60 361.73,251.39 362.11,250.19 362.49,249.00 362.87,247.82 363.25,246.66 363.62,245.52 364.00,244.41 364.38,243.32 364.76,242.27 365.14,241.25 365.52,240.28 365.90,239.34 366.28,238.46 366.65,237.63 367.03,236.85 367.41,236.12 367.79,235.46 368.17,234.86 368.55,234.32 368.93,233.86 369.31,233.46 369.69,233.13 370.06,232.87 370.44,232.68 370.82,232.57 371.20,232.54" fill="none" stroke="#000" stroke-width="1.5"/>
<g fill="#000"><circle cx="219.70" cy="232.54" r="1.9"/><circle cx="222.07" cy="233.97" r="1.9"/><circle cx="224.43" cy="238.04" r="1.9"/><circle cx="226.80" cy="244.13" r="1.9"/><circle cx="229.17" cy="251.39" r="1.9"/><circle cx="231.54" cy="258.93" r="1.9"/><circle cx="233.90" cy="265.99" r="1.9"/><circle cx="236.27" cy="272.06" r="1.9"/><circle cx="238.64" cy="276.91" r="1.9"/><circle cx="241.00" cy="280.55" r="1.9"/><circle cx="243.37" cy="283.13" r="1.9"/><circle cx="245.74" cy="284.87" r="1.9"/><circle cx="248.11" cy="285.99" r="1.9"/><circle cx="250.47" cy="286.67" r="1.9"/><circle cx="252.84" cy="287.06" r="1.9"/><circle cx="255.21" cy="287.26" r="1.9"/><circle cx="257.57" cy="287.32" r="1.9"/><circle cx="259.94" cy="287.26" r="1.9"/><circle cx="262.31" cy="287.06" r="1.9"/><circle cx="264.68" cy="286.67" r="1.9"/><circle cx="267.04" cy="285.99" r="1.9"/><circle cx="269.41" cy="284.87" r="1.9"/><circle cx="271.78" cy="283.13" r="1.9"/><circle cx="274.15" cy="280.55" r="1.9"/><circle cx="276.51" cy="276.91" r="1.9"/><circle cx="278.88" cy="272.06" r="1.9"/><circle cx="281.25" cy="265.99" r="1.9"/><circle cx="283.61" cy="258.93" r="1.9"/><circle cx="285.98" cy="251.39" r="1.9"/><circle cx="288.35" cy="244.13" r="1.9"/><circle cx="290.72" cy="238.04" r="1.9"/><circle cx="293.08" cy="233.97" r="1.9"/><circle cx="295.45" cy="232.54" r="1.9"/><circle cx="297.82" cy="233.97" r="1.9"/><circle cx="300.18" cy="238.04" r="1.9"/><circle cx="302.55" cy="244.13" r="1.9"/><circle cx="304.92" cy="251.39" r="1.9"/><circle cx="307.29" cy="258.93" r="1.9"/><circle cx="309.65" cy="265.99" r="1.9"/><circle cx="312.02" cy="272.06" r="1.9"/><circle cx="314.39" cy="276.91" r="1.9"/><circle cx="316.75" cy="280.55" r="1.9"/><circle cx="319.12" cy="283.13" r="1.9"/><circle cx="321.49" cy="284.87" r="1.9"/><circle cx="323.86" cy="285.99" r="1.9"/><circle cx="326.22" cy="286.67" r="1.9"/><circle cx="328.59" cy="287.06" r="1.9"/><circle cx="330.96" cy="287.26" r="1.9"/><circle cx="333.32" cy="287.32" r="1.9"/><circle cx="335.69" cy="287.26" r="1.9"/><circle cx="338.06" cy="287.06" r="1.9"/><circle cx="340.43" cy="286.67" r="1.9"/><circle cx="342.79" cy="285.99" r="1.9"/><circle cx="345.16" cy="284.87" r="1.9"/><circle cx="347.53" cy="283.13" r="1.9"/><circle cx="349.90" cy="280.55" r="1.9"/><circle cx="352.26" cy="276.91" r="1.9"/><circle cx="354.63" cy="272.06" r="1.9"/><circle cx="357.00" cy="265.99" r="1.9"/><circle cx="359.36" cy="258.93" r="1.9"/><circle cx="361.73" cy="251.39" r="1.9"/><circle cx="364.10" cy="244.13" r="1.9"/><circle cx="366.47" cy="238.04" r="1.9"/><circle cx="368.83" cy="233.97" r="1.9"/><circle cx="371.20" cy="232.54" r="1.9"/></g>
<text x="217.2" y="294.70" class="tr" text-anchor="end">0</text>
<text x="217.2" y="271.00" class="tr" text-anchor="end">1</text>
<text x="217.2" y="247.30" class="tr" text-anchor="end">2</text>
<text x="219.70" y="304.2" class="tr" text-anchor="middle">-1</text>
<text x="257.57" y="304.2" class="tr" text-anchor="middle">-.5</text>
<text x="295.45" y="304.2" class="tr" text-anchor="middle">0</text>
<text x="333.32" y="304.2" class="tr" text-anchor="middle">.5</text>
<text x="371.20" y="304.2" class="tr" text-anchor="middle">1</text>
<text x="233.3" y="42.6" class="pl2">(b1)</text>
<text x="233.3" y="119.4" class="pl2">(b2)</text>
<text x="233.3" y="253.0" class="pl2">(b3)</text>
<g class="eq" fill="#3030ff" stroke="#3030ff" stroke-width="0.1"><text x="67.9" y="86.90" font-size="8">(</text><text x="71.3" y="86.90" font-size="8" font-style="italic" textLength="5.4" lengthAdjust="spacingAndGlyphs">J</text><text x="77.4" y="88.00" font-size="5.2">1</text><text x="81.9" y="86.90" font-size="8" textLength="5.0" lengthAdjust="spacingAndGlyphs">+</text><text x="90.5" y="86.90" font-size="8" textLength="3.9" lengthAdjust="spacingAndGlyphs">2</text><text x="94.2" y="86.90" font-size="8" font-style="italic" textLength="5.4" lengthAdjust="spacingAndGlyphs">J</text><text x="100.0" y="88.00" font-size="5.2">2</text><text x="102.6" y="86.90" font-size="8" font-style="italic" textLength="13.4" lengthAdjust="spacingAndGlyphs">cos</text><text x="116.4" y="86.90" font-size="8">(</text><text x="119.5" y="86.90" font-size="8" font-style="italic" textLength="5.6" lengthAdjust="spacingAndGlyphs">ω</text><text x="125.0" y="88.00" font-size="5.2" font-style="italic" textLength="3.8" lengthAdjust="spacingAndGlyphs">m</text><text x="129.9" y="86.90" font-size="8" font-style="italic" textLength="3.2" lengthAdjust="spacingAndGlyphs">t</text><text x="133.4" y="86.90" font-size="8">)</text><text x="136.6" y="86.90" font-size="8">)</text><text x="141.5" y="86.90" font-size="8" font-style="italic" textLength="3.8" lengthAdjust="spacingAndGlyphs">e</text><text x="145.3" y="83.50" font-size="5" font-style="italic" textLength="6.4" lengthAdjust="spacingAndGlyphs">iω</text><text x="151.8" y="84.50" font-size="3.8" font-style="italic" textLength="3.2" lengthAdjust="spacingAndGlyphs">m</text><text x="155.3" y="83.50" font-size="5" font-style="italic" textLength="2.4" lengthAdjust="spacingAndGlyphs">t</text></g>
<g class="eq" fill="#ff3030" stroke="#ff3030" stroke-width="0.1"><text x="67.9" y="160.80" font-size="8">(</text><text x="71.3" y="160.80" font-size="8" font-style="italic" textLength="5.4" lengthAdjust="spacingAndGlyphs">J</text><text x="77.4" y="161.90" font-size="5.2">1</text><text x="81.9" y="160.80" font-size="8" textLength="5.0" lengthAdjust="spacingAndGlyphs">+</text><text x="90.5" y="160.80" font-size="8" textLength="3.9" lengthAdjust="spacingAndGlyphs">2</text><text x="94.2" y="160.80" font-size="8" font-style="italic" textLength="5.4" lengthAdjust="spacingAndGlyphs">J</text><text x="100.0" y="161.90" font-size="5.2">2</text><text x="102.6" y="160.80" font-size="8" font-style="italic" textLength="13.4" lengthAdjust="spacingAndGlyphs">cos</text><text x="116.4" y="160.80" font-size="8">(</text><text x="119.5" y="160.80" font-size="8" font-style="italic" textLength="5.6" lengthAdjust="spacingAndGlyphs">ω</text><text x="125.0" y="161.90" font-size="5.2" font-style="italic" textLength="3.8" lengthAdjust="spacingAndGlyphs">m</text><text x="129.9" y="160.80" font-size="8" font-style="italic" textLength="3.2" lengthAdjust="spacingAndGlyphs">t</text><text x="133.4" y="160.80" font-size="8">)</text><text x="136.6" y="160.80" font-size="8">)</text><text x="140.2" y="160.80" font-size="8" font-style="italic" textLength="4.0" lengthAdjust="spacingAndGlyphs">e</text><text x="144.6" y="157.20" font-size="5" textLength="4.2" lengthAdjust="spacingAndGlyphs">−</text><text x="149.2" y="157.20" font-size="5" font-style="italic" textLength="6.4" lengthAdjust="spacingAndGlyphs">iω</text><text x="155.7" y="158.20" font-size="3.8" font-style="italic" textLength="3.2" lengthAdjust="spacingAndGlyphs">m</text><text x="159.4" y="157.20" font-size="5" font-style="italic" textLength="2.4" lengthAdjust="spacingAndGlyphs">t</text></g>
<g class="eq" fill="#ff22ff" stroke="#ff22ff" stroke-width="0.35"><text x="123.0" y="245.60" font-size="8" font-style="italic" textLength="5.2" lengthAdjust="spacingAndGlyphs">J</text><text x="128.4" y="246.70" font-size="5.2">0</text><text x="133.2" y="245.60" font-size="8" textLength="5.0" lengthAdjust="spacingAndGlyphs">−</text><text x="141.6" y="245.60" font-size="8" textLength="3.9" lengthAdjust="spacingAndGlyphs">2</text><text x="145.6" y="245.60" font-size="8" font-style="italic" textLength="5.2" lengthAdjust="spacingAndGlyphs">J</text><text x="151.0" y="246.70" font-size="5.2">2</text></g>
<text x="42" y="312.7" class="xl">Normalized Frequency (<tspan font-style="italic">ω</tspan>/<tspan font-style="italic">ω</tspan><tspan font-size="7" dy="4.5">m</tspan><tspan dy="-4.5">)</tspan></text>
<text x="250.3" y="314.9" class="xl2">Normalized time (t/T<tspan font-size="7" dy="3.5">0</tspan><tspan dy="-3.5">)</tspan></text>
<text transform="translate(9.2,144) rotate(-90)" class="yl" text-anchor="middle">Intensity (arb. units)</text>
<text transform="translate(199,49.5) rotate(-90)" class="yl2" text-anchor="middle">Phase (rad)</text>
<text transform="translate(201.5,160.5) rotate(-90)" class="yl2" text-anchor="middle">Field amplitude</text>
<text transform="translate(204.2,286.2) rotate(-90)" class="yl2">Power <tspan font-size="10.5">|</tspan><tspan font-style="italic" font-size="10.5">ψ</tspan><tspan font-size="8" dy="3.8">B</tspan><tspan dy="-3.8" font-size="10.5">(t)|</tspan><tspan font-size="7.5" dy="-5">2</tspan></text>
</svg>
</body></html>
